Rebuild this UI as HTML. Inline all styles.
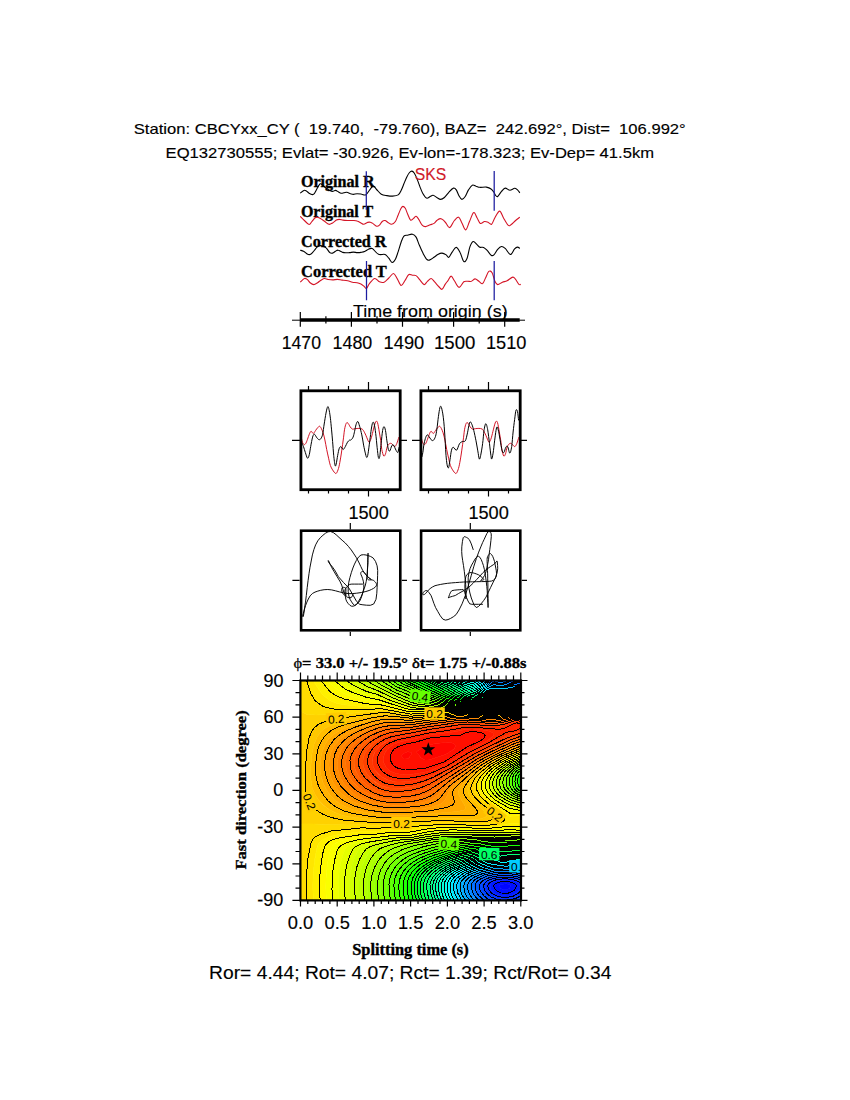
<!DOCTYPE html>
<html><head><meta charset="utf-8"><title>SKS splitting</title><style>
html,body{margin:0;padding:0;background:#fff;}
svg{display:block;}
.s{font-family:"Liberation Sans",Arial,Helvetica,sans-serif;stroke:#000;stroke-width:0.15px;}
.l{font-family:"Liberation Sans",Arial,Helvetica,sans-serif;}
.b{font-family:"Liberation Serif","Times New Roman",Times,serif;font-weight:bold;stroke:#000;stroke-width:0.35px;}
text{white-space:pre;}
</style></head><body>
<svg width="850" height="1100" viewBox="0 0 850 1100" xml:space="preserve">
<rect width="850" height="1100" fill="#fff"/>

<text class="s" x="133.80" y="134.40" font-size="15" textLength="551.95" lengthAdjust="spacingAndGlyphs" fill="#000" >Station: CBCYxx_CY (  19.740,  -79.760), BAZ=  242.692°, Dist=  106.992°</text>
<text class="s" x="165.60" y="157.60" font-size="15" textLength="488.46" lengthAdjust="spacingAndGlyphs" fill="#000" >EQ132730555; Evlat= -30.926, Ev-lon=-178.323; Ev-Dep= 41.5km</text>
<text class="b" x="300.90" y="186.80" font-size="16" textLength="73.83" lengthAdjust="spacingAndGlyphs" fill="#000" >Original R</text>
<text class="b" x="300.90" y="216.80" font-size="16" textLength="72.30" lengthAdjust="spacingAndGlyphs" fill="#000" >Original T</text>
<text class="b" x="301.10" y="246.80" font-size="16" textLength="85.45" lengthAdjust="spacingAndGlyphs" fill="#000" >Corrected R</text>
<text class="b" x="301.10" y="276.80" font-size="16" textLength="85.73" lengthAdjust="spacingAndGlyphs" fill="#000" >Corrected T</text>
<path d="M300.2 193.2C300.8 192.7 302.9 190.8 303.9 190.4C304.9 190.0 305.4 190.4 306.3 190.9C307.2 191.4 308.1 192.6 309.1 193.2C310.1 193.8 311.5 194.5 312.4 194.6C313.3 194.7 313.6 194.5 314.3 193.7C315.0 192.8 315.8 190.9 316.6 189.5C317.4 188.1 318.3 186.1 319.0 185.2C319.7 184.2 319.7 183.3 320.9 183.8C322.1 184.3 324.6 187.0 326.1 188.1C327.6 189.2 328.7 189.8 329.8 190.4C330.9 191.0 331.7 191.4 332.6 191.4C333.6 191.4 334.6 190.3 335.5 190.4C336.4 190.5 337.4 191.3 338.3 191.8C339.2 192.3 340.2 193.0 341.1 193.2C342.0 193.4 342.9 193.0 343.9 192.8C344.8 192.7 345.7 192.2 346.8 192.3C347.9 192.5 349.4 193.3 350.5 193.7C351.6 194.0 352.3 194.4 353.4 194.4C354.5 194.4 355.7 193.7 357.1 193.7C358.5 193.7 360.3 194.0 361.8 194.2C363.3 194.3 364.3 195.9 366.1 194.6C367.9 193.3 371.1 187.0 372.8 186.2C374.6 185.3 375.2 188.2 376.6 189.5C378.0 190.8 379.6 193.2 381.3 194.2C383.0 195.2 385.0 195.3 386.9 195.6C388.8 195.9 390.7 196.2 392.6 196.1C394.5 196.0 396.8 195.8 398.2 194.9C399.6 194.0 400.2 192.2 401.1 190.4C402.1 188.6 403.0 186.0 403.9 183.8C404.8 181.6 405.8 179.1 406.7 177.2C407.6 175.3 408.6 173.5 409.5 172.5C410.4 171.5 411.1 171.0 411.9 171.1C412.7 171.2 413.3 171.7 414.2 173.0C415.1 174.3 416.2 176.8 417.1 179.1C418.1 181.4 419.0 184.2 419.9 186.6C420.8 188.9 421.6 191.3 422.7 193.2C423.8 195.1 425.2 197.5 426.5 198.1C427.8 198.7 429.1 197.0 430.2 196.5C431.3 196.0 432.0 195.1 433.1 195.3C434.2 195.5 435.6 196.8 436.8 197.5C438.1 198.2 439.3 199.4 440.6 199.4C441.9 199.4 443.0 198.7 444.4 197.5C445.8 196.3 447.3 193.9 448.8 192.3C450.3 190.7 452.2 188.5 453.5 188.1C454.8 187.7 455.4 188.6 456.3 189.9C457.2 191.2 458.2 194.5 459.1 196.1C460.0 197.7 460.9 199.3 461.9 199.4C462.9 199.5 464.1 198.1 465.2 196.5C466.3 194.9 467.3 191.8 468.5 189.9C469.7 188.0 471.0 185.8 472.3 185.2C473.6 184.6 474.9 185.8 476.1 186.2C477.4 186.5 478.1 187.2 479.8 187.3C481.5 187.5 484.5 186.8 486.4 187.1C488.3 187.4 489.9 188.1 491.1 189.0C492.4 189.9 493.2 191.3 493.9 192.3C494.6 193.3 494.8 194.4 495.4 195.1C496.0 195.8 496.7 197.1 497.7 196.5C498.7 195.9 500.2 192.8 501.5 191.4C502.8 190.0 503.8 188.3 505.2 188.1C506.6 187.9 508.3 190.2 509.9 190.2C511.5 190.2 513.3 188.4 514.6 188.3C515.9 188.2 516.6 189.2 517.5 189.9C518.4 190.7 519.4 192.3 519.8 192.8" fill="none" stroke="#000" stroke-width="1.1"/>
<path d="M300.2 216.3C300.9 217.0 302.9 219.1 304.4 220.5C305.9 221.9 307.9 224.3 309.1 224.5C310.4 224.7 310.9 222.6 311.9 221.5C312.9 220.4 314.2 218.4 315.2 217.7C316.1 217.0 316.7 217.0 317.6 217.2C318.5 217.3 319.3 218.0 320.4 218.6C321.5 219.2 322.8 220.1 324.2 221.0C325.6 221.9 327.5 224.0 328.9 224.3C330.3 224.6 331.4 223.6 332.6 222.9C333.9 222.2 335.3 220.7 336.4 220.1C337.5 219.5 338.1 219.4 339.2 219.4C340.3 219.4 341.6 219.9 343.0 220.1C344.4 220.3 346.0 220.4 347.7 220.5C349.4 220.6 351.8 220.4 353.4 220.5C355.0 220.6 355.9 220.6 357.1 221.0C358.4 221.4 359.8 222.3 360.9 222.9C362.0 223.5 362.6 224.4 363.7 224.3C364.8 224.2 366.4 222.8 367.5 222.4C368.6 222.1 369.4 222.0 370.3 222.2C371.2 222.4 371.8 222.7 372.8 223.4C373.9 224.1 375.5 225.9 376.6 226.2C377.7 226.5 378.5 226.0 379.4 225.2C380.3 224.4 381.2 222.3 382.2 221.5C383.1 220.7 384.2 220.3 385.1 220.5C386.1 220.7 386.8 221.8 387.9 222.4C389.0 223.0 390.4 224.5 391.6 224.3C392.9 224.2 394.3 223.1 395.4 221.5C396.5 219.9 397.2 217.1 398.2 214.9C399.1 212.7 400.3 209.7 401.1 208.3C401.9 206.9 402.2 206.4 402.9 206.4C403.6 206.4 404.5 207.1 405.3 208.3C406.1 209.6 406.7 211.9 407.6 213.9C408.5 215.9 409.6 219.3 410.5 220.1C411.4 220.9 412.4 219.2 413.3 218.6C414.2 218.0 415.2 216.1 416.1 216.3C417.0 216.5 417.9 218.1 418.9 219.6C419.9 221.1 421.1 224.0 422.2 225.2C423.3 226.4 424.2 226.7 425.5 226.6C426.8 226.5 428.8 225.3 430.2 224.8C431.6 224.3 432.9 224.1 434.0 223.4C435.1 222.7 435.8 221.3 436.8 220.5C437.8 219.7 439.0 218.7 440.1 218.6C441.2 218.5 442.4 219.3 443.4 220.1C444.4 220.9 445.1 222.2 446.2 223.4C447.2 224.7 448.3 228.1 449.7 227.6C451.1 227.1 452.9 222.2 454.4 220.5C455.9 218.8 457.4 216.8 458.6 217.2C459.9 217.6 460.7 220.8 461.9 222.9C463.1 225.0 464.4 230.1 465.7 229.9C467.0 229.7 468.2 224.4 469.5 221.5C470.8 218.6 472.4 213.1 473.7 212.5C474.9 211.9 475.9 215.9 477.0 217.7C478.1 219.5 479.1 222.8 480.3 223.4C481.6 224.0 483.2 221.7 484.5 221.5C485.8 221.3 487.1 221.9 488.3 222.4C489.5 222.9 490.5 225.1 491.6 224.3C492.7 223.5 493.6 219.9 494.9 217.7C496.2 215.5 498.2 211.1 499.6 211.1C501.0 211.1 502.0 215.3 503.4 217.7C504.8 220.0 506.9 224.0 508.1 225.2C509.4 226.4 509.6 225.6 510.9 224.8C512.1 224.0 514.1 221.8 515.6 220.5C517.1 219.2 519.1 217.8 519.8 217.2" fill="none" stroke="#d41426" stroke-width="1.1"/>
<path d="M300.2 250.2C300.8 250.4 302.3 250.6 303.5 251.2C304.7 251.8 306.1 253.4 307.2 254.0C308.3 254.6 309.2 254.8 310.1 254.5C311.1 254.2 312.0 253.0 312.9 252.1C313.8 251.2 314.4 250.2 315.2 249.3C316.0 248.4 316.7 247.1 317.6 246.5C318.5 245.9 319.5 245.6 320.5 245.6C321.5 245.6 322.6 246.1 323.5 246.5C324.4 246.9 325.1 246.9 326.1 247.9C327.2 248.9 328.7 251.7 329.8 252.6C330.9 253.5 331.7 253.3 332.6 253.1C333.6 252.9 334.6 251.7 335.5 251.2C336.4 250.7 337.2 250.0 338.3 250.2C339.4 250.3 340.9 251.7 342.1 252.1C343.4 252.5 344.6 252.7 345.8 252.8C347.1 252.9 348.3 252.7 349.6 252.6C350.9 252.5 352.1 252.1 353.4 252.1C354.6 252.1 355.9 252.5 357.1 252.6C358.4 252.7 359.6 252.6 360.9 252.4C362.1 252.2 363.4 252.1 364.6 251.6C365.9 251.1 367.3 249.8 368.4 249.3C369.5 248.8 370.5 248.5 371.2 248.4C371.9 248.3 371.6 247.8 372.8 248.8C374.0 249.8 376.4 253.4 378.5 254.3C380.6 255.2 383.4 253.8 385.1 254.5C386.8 255.2 387.6 256.9 388.8 258.2C390.0 259.5 391.0 262.3 392.1 262.5C393.2 262.7 394.4 261.0 395.4 259.2C396.4 257.4 397.2 254.4 398.2 251.6C399.1 248.8 400.2 244.8 401.1 242.2C402.1 239.6 402.8 237.3 403.9 236.1C405.0 234.9 406.2 235.5 407.6 235.2C409.0 234.9 411.0 233.9 412.4 234.2C413.8 234.5 415.0 235.4 416.1 237.1C417.2 238.8 417.8 241.5 418.9 244.1C420.0 246.7 421.4 250.1 422.7 252.6C424.0 255.1 425.4 257.9 426.5 259.2C427.6 260.4 428.1 260.4 429.3 260.1C430.6 259.8 432.6 258.2 434.0 257.3C435.4 256.4 436.5 255.2 437.8 254.5C439.1 253.8 440.6 253.0 442.0 253.1C443.4 253.2 445.1 254.2 446.2 254.9C447.3 255.6 447.8 257.9 448.8 257.3C449.9 256.8 451.2 253.2 452.5 251.6C453.8 249.9 455.0 247.2 456.3 247.4C457.6 247.6 458.9 250.2 460.1 252.6C461.4 254.9 462.6 260.6 463.8 261.5C465.0 262.4 466.1 260.6 467.1 258.2C468.1 255.8 468.9 249.7 469.9 246.9C470.9 244.1 472.0 241.9 473.2 241.5C474.4 241.1 475.9 243.7 477.0 244.6C478.1 245.5 478.7 246.7 479.8 247.2C480.9 247.7 482.3 246.8 483.6 247.4C484.9 248.0 486.1 249.4 487.4 250.7C488.6 252.0 490.0 254.5 491.1 255.2C492.2 255.9 492.8 255.9 493.9 254.9C495.0 253.9 496.4 250.7 497.7 249.3C499.0 247.9 500.2 246.7 501.5 246.5C502.8 246.3 503.7 247.1 505.2 248.4C506.7 249.7 508.8 254.4 510.4 254.5C512.0 254.6 513.4 250.0 514.6 248.8C515.8 247.6 516.6 247.2 517.5 247.1C518.4 247.0 519.4 248.2 519.8 248.4" fill="none" stroke="#000" stroke-width="1.1"/>
<path d="M300.2 282.2C300.9 281.6 303.2 279.0 304.4 278.5C305.6 278.0 306.2 278.7 307.2 279.4C308.1 280.1 309.0 281.8 310.1 282.7C311.2 283.6 312.6 284.6 313.8 284.6C315.1 284.6 316.3 283.5 317.6 282.7C318.9 281.9 320.2 280.6 321.4 279.9C322.6 279.2 323.5 278.6 324.6 278.5C325.7 278.4 326.6 279.2 327.9 279.4C329.2 279.6 331.0 279.9 332.6 279.9C334.2 279.9 335.8 279.4 337.4 279.4C339.0 279.4 340.4 279.9 342.1 280.1C343.8 280.3 346.0 280.5 347.7 280.8C349.4 281.1 350.8 281.9 352.4 282.2C354.0 282.5 355.7 282.4 357.1 282.7C358.5 283.0 359.7 283.5 360.9 284.1C362.1 284.7 363.3 285.8 364.2 286.5C365.1 287.2 365.6 288.9 366.5 288.4C367.4 287.9 368.0 285.2 369.4 283.6C370.8 282.0 373.0 278.8 374.7 278.5C376.4 278.2 377.8 281.2 379.4 281.8C381.0 282.4 382.5 282.8 384.1 282.2C385.7 281.6 387.2 279.4 388.8 278.0C390.4 276.6 392.1 273.4 393.5 273.5C394.9 273.6 396.0 276.9 397.3 278.9C398.6 280.9 399.9 285.2 401.1 285.5C402.4 285.8 403.6 282.6 404.8 280.8C406.1 279.0 407.3 275.6 408.6 274.7C409.9 273.8 411.1 275.0 412.4 275.2C413.6 275.4 414.9 274.8 416.1 275.6C417.4 276.4 418.6 278.4 419.9 279.9C421.2 281.4 422.9 284.4 424.1 284.6C425.4 284.8 426.2 282.3 427.4 281.3C428.6 280.3 429.9 278.4 431.2 278.5C432.4 278.6 433.6 280.9 434.9 282.2C436.1 283.5 437.5 285.3 438.7 286.5C439.9 287.7 440.9 289.7 442.0 289.3C443.1 288.9 444.3 285.5 445.3 284.1C446.3 282.7 446.8 282.1 447.8 280.8C448.8 279.5 450.0 276.1 451.1 276.1C452.2 276.1 453.1 278.9 454.4 280.8C455.7 282.7 457.5 287.2 459.1 287.4C460.7 287.6 462.4 282.8 463.8 281.8C465.2 280.8 466.3 281.4 467.6 281.3C468.9 281.2 470.1 281.7 471.4 281.3C472.6 280.9 473.9 278.9 475.1 278.9C476.4 278.9 477.6 280.5 478.9 281.3C480.1 282.1 481.5 284.2 482.6 283.6C483.7 283.1 484.5 280.0 485.5 278.0C486.5 276.0 487.7 272.3 488.8 271.4C489.9 270.5 491.1 271.1 492.1 272.8C493.1 274.5 494.0 279.3 494.9 281.3C495.8 283.3 496.4 284.5 497.7 284.6C498.9 284.8 500.8 282.8 502.4 282.2C504.0 281.6 505.4 281.6 507.1 280.8C508.8 280.0 511.4 277.3 512.8 277.1C514.2 276.9 514.6 278.2 515.6 279.4C516.6 280.6 518.0 283.6 518.9 284.4C519.8 285.2 520.5 284.4 520.8 284.4" fill="none" stroke="#d41426" stroke-width="1.1"/>
<g stroke="#1c1ca0" stroke-width="1.25"><path d="M366.3 171.2V209.8M494.2 171.1V210.8M366.5 261V300.3M494.2 261V300.3"/></g>
<text class="s" x="414.80" y="179.60" font-size="16" textLength="31.42" lengthAdjust="spacingAndGlyphs" fill="#d01a2a" style="stroke:#d01a2a">SKS</text>
<text class="s" x="353.00" y="316.50" font-size="17" textLength="154.60" lengthAdjust="spacingAndGlyphs" fill="#000" >Time from origin (s)</text>
<path d="M292 320.2H525" stroke="#000" stroke-width="1"/>
<path d="M300.3 320H519.7" stroke="#000" stroke-width="3.4"/>
<path d="M300.3 312V326.8M325.9 316.2V323.5M351.4 312V326.8M377.0 316.2V323.5M402.5 312V326.8M428.1 316.2V323.5M453.6 312V326.8M479.2 316.2V323.5M504.7 312V326.8" stroke="#000" stroke-width="1.2"/>
<text class="s" x="281.70" y="348.50" font-size="18" textLength="39.28" lengthAdjust="spacingAndGlyphs" fill="#000" >1470</text>
<text class="s" x="332.50" y="348.50" font-size="18" textLength="39.78" lengthAdjust="spacingAndGlyphs" fill="#000" >1480</text>
<text class="s" x="383.60" y="348.50" font-size="18" textLength="40.68" lengthAdjust="spacingAndGlyphs" fill="#000" >1490</text>
<text class="s" x="434.00" y="348.50" font-size="18" textLength="41.38" lengthAdjust="spacingAndGlyphs" fill="#000" >1500</text>
<text class="s" x="486.00" y="348.50" font-size="18" textLength="40.48" lengthAdjust="spacingAndGlyphs" fill="#000" >1510</text>
<path d="M308.5 386V390.8M308.5 489.7V493.6M328.5 386V390.8M328.5 489.7V493.6M348.5 386V390.8M348.5 489.7V493.6M368.5 382V390.8M368.5 489.7V496.5M388.5 386V390.8M388.5 489.7V493.6M292 440.4H300.9M400.2 440.4H407" stroke="#000" stroke-width="1.2"/>
<text class="s" x="348.40" y="518.50" font-size="18" textLength="40.38" lengthAdjust="spacingAndGlyphs" fill="#000" >1500</text>
<path d="M428.5 386V390.8M428.5 489.7V493.6M448.5 386V390.8M448.5 489.7V493.6M468.5 386V390.8M468.5 489.7V493.6M488.5 382V390.8M488.5 489.7V496.5M508.5 386V390.8M508.5 489.7V493.6M412 440.4H420.9M520.2 440.4H527" stroke="#000" stroke-width="1.2"/>
<text class="s" x="468.40" y="518.50" font-size="18" textLength="40.38" lengthAdjust="spacingAndGlyphs" fill="#000" >1500</text>
<clipPath id="cb1"><rect x="301" y="391" width="99" height="99"/></clipPath><clipPath id="cb2"><rect x="421" y="391" width="99" height="99"/></clipPath>
<g clip-path="url(#cb1)" fill="none" stroke-width="1"><path d="M300.5 432.0C300.8 433.5 301.4 438.7 302.0 440.8C302.6 442.9 303.2 443.9 303.8 444.4C304.4 444.9 305.0 444.5 305.6 443.7C306.2 442.9 306.9 440.9 307.5 439.3C308.1 437.7 308.7 435.5 309.3 434.2C309.9 432.9 310.4 431.4 311.1 431.3C311.8 431.2 312.6 433.6 313.3 433.5C314.0 433.4 314.8 431.6 315.5 430.6C316.2 429.6 317.0 428.4 317.7 427.7C318.4 427.0 318.9 426.1 319.5 426.2C320.1 426.3 320.7 427.3 321.3 428.4C321.9 429.5 322.5 430.9 323.1 432.8C323.7 434.7 324.3 437.2 324.9 440.0C325.5 442.8 326.1 446.5 326.7 449.5C327.3 452.5 328.0 455.5 328.6 458.2C329.2 460.9 329.7 463.6 330.4 465.5C331.1 467.4 331.7 468.6 332.6 469.9C333.5 471.2 334.9 473.5 335.8 473.5C336.7 473.5 337.3 471.7 338.0 469.9C338.7 468.1 339.2 465.8 339.8 462.6C340.4 459.4 341.1 455.0 341.7 450.9C342.3 446.8 343.0 441.7 343.5 437.8C344.0 433.9 344.3 430.2 344.9 427.7C345.4 425.2 346.1 423.1 346.8 422.6C347.5 422.1 348.4 424.0 349.0 424.7C349.6 425.4 349.6 426.2 350.2 426.9C350.8 427.6 351.5 428.8 352.4 429.1C353.2 429.4 354.2 428.8 355.3 428.7C356.4 428.6 357.8 428.3 358.9 428.4C360.0 428.5 361.2 428.4 362.2 429.1C363.2 429.8 363.9 431.4 364.7 432.8C365.5 434.2 366.2 436.2 366.9 437.8C367.6 439.4 368.4 442.2 369.1 442.2C369.8 442.2 370.6 440.0 371.3 437.8C372.0 435.6 372.8 431.8 373.5 429.1C374.2 426.4 375.0 422.9 375.7 421.8C376.4 420.7 376.9 420.9 377.5 422.6C378.1 424.3 378.8 429.0 379.3 432.0C379.9 435.0 380.4 437.9 380.8 440.8C381.2 443.7 381.3 447.0 381.8 449.5C382.3 452.0 383.1 455.3 383.7 456.0C384.3 456.7 384.9 455.5 385.5 453.9C386.1 452.3 386.6 448.3 387.3 446.6C388.0 444.9 388.8 444.2 389.5 443.7C390.2 443.2 390.8 443.2 391.7 443.7C392.6 444.2 393.8 446.6 394.6 446.6C395.5 446.6 396.1 445.1 396.8 443.5C397.5 441.9 398.5 438.2 398.9 437.1" stroke="#d41426"/><path d="M302.0 442.9C302.2 443.5 302.9 445.0 303.5 446.6C304.1 448.2 304.6 450.5 305.3 452.4C306.0 454.3 306.8 457.8 307.5 458.2C308.2 458.6 308.8 456.5 309.3 454.6C309.8 452.7 310.1 449.5 310.7 446.6C311.2 443.7 312.0 439.2 312.6 437.1C313.2 435.0 313.7 434.1 314.4 434.2C315.1 434.3 316.1 436.9 316.9 437.8C317.7 438.7 318.4 439.6 319.1 439.7C319.8 439.8 320.3 439.5 320.9 438.6C321.5 437.7 322.1 436.6 322.7 434.2C323.2 431.8 323.6 427.5 324.2 424.0C324.8 420.5 325.4 416.0 326.0 413.1C326.6 410.2 327.2 407.0 327.8 406.6C328.4 406.2 328.9 409.0 329.3 410.9C329.7 412.8 330.0 415.2 330.4 418.2C330.8 421.2 331.1 425.2 331.5 429.1C331.9 433.0 332.2 437.1 332.6 441.5C333.0 445.9 333.3 451.3 333.7 455.3C334.1 459.3 334.7 464.1 335.1 465.5C335.5 466.9 335.8 465.7 336.2 464.0C336.6 462.3 337.2 457.8 337.7 455.3C338.2 452.8 338.6 450.2 339.1 448.8C339.6 447.4 340.2 446.5 340.9 446.6C341.6 446.7 342.4 449.5 343.1 449.5C343.8 449.5 344.6 447.8 345.3 446.6C346.0 445.4 346.8 443.3 347.5 442.2C348.2 441.1 349.1 440.4 349.7 440.0C350.3 439.6 350.3 440.5 350.9 440.0C351.5 439.5 352.5 438.6 353.1 437.1C353.7 435.7 354.1 433.4 354.6 431.3C355.1 429.2 355.5 426.3 356.0 424.7C356.5 423.1 357.2 421.2 357.8 421.5C358.4 421.8 358.9 424.0 359.6 426.2C360.3 428.4 361.1 431.8 361.8 434.9C362.5 438.0 363.0 441.9 363.6 445.1C364.2 448.3 365.0 451.8 365.5 453.9C366.0 456.0 366.4 457.5 366.8 457.5C367.2 457.5 367.5 456.7 368.0 453.9C368.5 451.1 369.2 444.9 369.8 440.8C370.4 436.7 370.8 432.1 371.3 429.1C371.8 426.1 372.2 423.5 372.7 422.6C373.2 421.8 373.7 422.2 374.2 424.0C374.7 425.8 375.2 429.6 375.7 433.5C376.2 437.4 376.7 443.3 377.1 447.3C377.6 451.3 378.0 455.9 378.4 457.5C378.8 459.1 379.2 459.1 379.7 456.8C380.1 454.5 380.6 448.1 381.1 443.7C381.6 439.3 382.1 433.5 382.6 430.6C383.1 427.8 383.5 426.6 384.0 426.6C384.5 426.6 385.0 428.2 385.5 430.6C386.0 433.0 386.4 437.7 386.9 440.8C387.4 443.9 387.9 447.8 388.4 449.5C388.9 451.2 389.2 451.5 389.8 450.9C390.4 450.3 391.1 446.9 391.7 445.9C392.3 444.9 392.8 444.4 393.5 445.1C394.2 445.8 395.3 449.0 396.0 450.2C396.7 451.4 397.4 452.9 397.9 452.4C398.4 451.9 398.7 448.1 398.9 447.3" stroke="#000"/></g>
<g clip-path="url(#cb2)" fill="none" stroke-width="1"><path d="M420.5 432.0C420.8 433.5 421.4 438.7 422.0 440.8C422.6 442.9 423.2 443.9 423.8 444.4C424.4 444.9 425.0 444.5 425.6 443.7C426.2 442.9 426.9 440.9 427.5 439.3C428.1 437.7 428.7 435.5 429.3 434.2C429.9 432.9 430.4 431.4 431.1 431.3C431.8 431.2 432.6 433.6 433.3 433.5C434.0 433.4 434.8 431.6 435.5 430.6C436.2 429.6 437.0 428.4 437.7 427.7C438.4 427.0 438.9 426.1 439.5 426.2C440.1 426.3 440.7 427.3 441.3 428.4C441.9 429.5 442.5 430.9 443.1 432.8C443.7 434.7 444.3 437.2 444.9 440.0C445.5 442.8 446.1 446.5 446.7 449.5C447.3 452.5 448.0 455.5 448.6 458.2C449.2 460.9 449.7 463.6 450.4 465.5C451.1 467.4 451.7 468.6 452.6 469.9C453.5 471.2 454.9 473.5 455.8 473.5C456.7 473.5 457.3 471.7 458.0 469.9C458.7 468.1 459.2 465.8 459.8 462.6C460.4 459.4 461.1 455.0 461.7 450.9C462.3 446.8 463.0 441.7 463.5 437.8C464.0 433.9 464.3 430.2 464.9 427.7C465.4 425.2 466.1 423.1 466.8 422.6C467.5 422.1 468.4 424.0 469.0 424.7C469.6 425.4 469.6 426.2 470.2 426.9C470.8 427.6 471.5 428.8 472.4 429.1C473.2 429.4 474.2 428.8 475.3 428.7C476.4 428.6 477.8 428.3 478.9 428.4C480.0 428.5 481.2 428.4 482.2 429.1C483.2 429.8 483.9 431.4 484.7 432.8C485.5 434.2 486.2 436.2 486.9 437.8C487.6 439.4 488.4 442.2 489.1 442.2C489.8 442.2 490.6 440.0 491.3 437.8C492.0 435.6 492.8 431.8 493.5 429.1C494.2 426.4 495.0 422.9 495.7 421.8C496.4 420.7 496.9 420.9 497.5 422.6C498.1 424.3 498.8 429.0 499.3 432.0C499.9 435.0 500.4 437.9 500.8 440.8C501.2 443.7 501.3 447.0 501.8 449.5C502.3 452.0 503.1 455.3 503.7 456.0C504.3 456.7 504.9 455.5 505.5 453.9C506.1 452.3 506.6 448.3 507.3 446.6C508.0 444.9 508.8 444.2 509.5 443.7C510.2 443.2 510.8 443.2 511.7 443.7C512.5 444.2 513.8 446.6 514.6 446.6C515.5 446.6 516.1 445.1 516.8 443.5C517.5 441.9 518.5 438.2 518.9 437.1" stroke="#d41426"/><path d="M422.0 456.8C422.2 455.8 422.8 452.8 423.1 450.9C423.4 448.9 423.4 447.2 423.8 445.1C424.2 443.1 424.8 440.3 425.3 438.6C425.9 436.9 426.5 435.3 427.1 434.9C427.7 434.5 428.2 435.6 428.9 436.4C429.6 437.2 430.4 439.0 431.1 439.7C431.8 440.4 432.6 440.9 433.3 440.4C434.0 439.8 434.9 438.3 435.5 436.4C436.1 434.5 436.4 432.4 436.9 429.1C437.4 425.8 437.9 420.2 438.4 416.7C438.9 413.2 439.4 409.7 439.8 408.0C440.2 406.3 440.6 405.8 441.1 406.6C441.6 407.5 442.2 410.6 442.7 413.1C443.1 415.6 443.5 418.7 443.8 421.8C444.1 424.9 444.4 428.4 444.6 432.0C444.9 435.6 445.1 439.8 445.3 443.7C445.5 447.6 445.7 451.8 446.0 455.3C446.3 458.8 446.7 462.7 447.1 464.8C447.5 466.9 448.1 468.6 448.6 467.7C449.1 466.8 449.5 462.6 450.0 459.7C450.5 456.8 450.9 452.3 451.5 450.2C452.1 448.1 452.4 447.3 453.3 447.3C454.2 447.3 455.6 450.8 456.6 450.2C457.6 449.6 458.5 445.1 459.5 443.7C460.5 442.2 461.4 442.0 462.4 441.5C463.4 441.0 464.4 442.2 465.3 440.8C466.2 439.4 466.9 435.4 467.5 432.8C468.1 430.2 468.4 427.3 468.9 425.5C469.3 423.7 469.7 421.9 470.2 421.8C470.7 421.7 471.4 423.2 472.0 424.7C472.6 426.2 473.1 427.9 473.8 430.6C474.5 433.3 475.3 437.4 476.0 440.8C476.7 444.2 477.2 447.9 477.8 450.9C478.4 453.9 478.8 458.3 479.3 459.0C479.8 459.7 480.1 457.9 480.7 455.3C481.2 452.8 482.1 447.8 482.6 443.7C483.2 439.6 483.5 433.9 484.0 430.6C484.5 427.3 485.2 423.8 485.8 423.7C486.4 423.6 487.1 426.5 487.7 429.8C488.3 433.1 489.0 439.4 489.5 443.7C490.0 447.9 490.5 452.8 490.9 455.3C491.3 457.9 491.3 459.4 491.7 459.0C492.1 458.6 492.6 456.1 493.1 453.1C493.6 450.1 494.1 444.6 494.6 440.8C495.1 437.1 495.6 432.9 496.0 430.6C496.4 428.3 496.7 426.8 497.1 426.9C497.5 427.0 498.1 429.2 498.6 431.3C499.1 433.4 499.4 436.0 500.0 439.3C500.6 442.6 501.5 448.7 502.2 450.9C502.9 453.1 503.4 453.0 504.0 452.4C504.6 451.8 505.2 448.3 505.8 447.3C506.4 446.3 507.0 445.6 507.7 446.6C508.4 447.6 509.1 453.1 509.8 453.1C510.5 453.1 511.1 450.1 511.7 446.6C512.2 443.1 512.6 436.5 513.1 432.0C513.6 427.5 514.1 423.3 514.6 419.7C515.1 416.1 515.5 411.5 516.0 410.2C516.5 408.9 517.1 409.9 517.5 411.6C517.9 413.3 518.4 418.9 518.6 420.4" stroke="#000"/></g>
<rect x="300.9" y="390.8" width="99.3" height="98.9" fill="none" stroke="#000" stroke-width="2.8"/>
<rect x="420.9" y="390.8" width="99.3" height="98.9" fill="none" stroke="#000" stroke-width="2.8"/>
<path d="M362.9 584.1 358.6 584.1 354.8 584.1 351.8 584.1 349.7 584.4 348.0 585.8 346.5 587.2 345.4 588.7 344.9 590.3 344.9 592.2 345.1 594.2 345.3 596.1 345.6 597.9 346.0 599.8 346.9 601.8 348.3 603.7 349.9 605.3 351.5 606.2 353.1 606.2 354.8 605.6 356.6 604.4 358.3 602.8 359.7 601.1 360.9 598.5 362.2 594.9 363.2 591.2 363.8 587.9 363.8 584.5 363.3 581.2 362.5 578.3 361.7 576.1 361.0 574.7 360.7 573.4 361.0 572.3 361.6 571.7 362.5 571.5 363.5 571.9 364.5 572.7 365.3 573.8 366.1 574.9 366.9 575.9 367.7 576.7 368.5 577.4 369.1 578.1 369.8 578.7 370.4 579.2 370.9 579.4 371.3 579.5 371.2 579.3 370.8 578.9 370.0 578.4 369.1 577.9 368.1 577.1 367.0 575.9 365.7 574.4 364.2 572.5 362.6 570.2 360.8 566.5 358.7 562.0 356.4 557.7 353.9 553.9 351.3 550.0 348.4 546.4 345.3 543.0 342.1 540.2 339.0 537.4 336.1 534.7 333.3 532.6 330.6 531.5 328.0 531.8 325.5 533.2 322.9 535.3 320.3 537.7 317.8 540.8 315.6 544.9 313.9 549.5 312.4 554.9 311.2 561.0 310.0 567.2 309.0 573.7 308.1 580.4 307.2 587.7 306.3 595.5 305.5 602.1 304.6 607.8 303.9 613.1 303.3 616.4 302.9 616.8 302.7 616.2 302.8 615.1 303.4 613.2 304.3 609.7 305.5 605.7 306.9 602.1 308.3 599.0 310.1 595.9 312.4 593.5 315.0 592.1 317.8 591.1 320.7 590.3 324.1 589.7 327.8 589.5 331.6 589.9 335.5 590.8 339.5 591.9 343.7 592.9 348.0 593.6 352.4 593.6 356.7 593.2 361.4 592.5 365.9 591.5 369.1 590.5 371.4 589.5 373.5 588.4 375.2 587.2 376.3 585.9 376.5 584.6 376.3 583.5 375.8 582.7 375.2 581.9 374.4 581.2 373.7 580.5 372.8 580.1 371.6 579.9 370.5 579.9 369.7 579.9 368.9 579.9 368.2 579.7 367.6 579.2 367.2 578.4 367.1 577.4 367.1 576.3 367.2 575.0 367.3 573.0 367.4 570.5 367.5 567.9 367.6 565.2 367.7 562.1 367.7 559.2 367.8 557.3 367.9 555.8 367.9 554.5 368.0 553.6 368.0 553.1 368.1 553.4 368.1 554.6 368.1 556.4 368.1 558.4 368.0 560.4 368.0 562.3 367.9 564.4 367.7 566.8 367.5 569.2 367.4 571.8 367.2 574.7 366.8 578.0 366.2 581.5 365.4 585.0 364.4 588.1 363.4 591.0 362.3 593.9 361.2 596.6 359.9 599.0 358.6 601.1 357.2 603.3 355.8 604.9 354.5 605.3 353.1 604.1 351.6 601.9 350.1 599.4 348.9 596.0 348.2 591.7 348.2 586.9 348.8 582.2 349.9 577.6 351.3 572.7 352.9 568.0 354.5 564.1 356.3 560.5 358.5 557.1 361.0 555.0 363.6 554.7 366.0 555.0 368.2 555.6 370.7 556.5 373.2 558.0 375.5 561.4 377.1 565.8 377.7 570.5 377.6 575.7 377.4 581.8 377.1 587.8 376.8 593.3 376.0 599.3 373.7 604.0 370.3 605.3 366.5 605.2 362.9 604.8 359.7 604.3 356.5 601.3 353.0 595.1 349.0 588.2 343.5 582.5 338.4 576.7 335.3 571.1 332.5 567.0 330.2 564.4 328.6 562.3 328.1 560.8 328.3 560.5 328.8 561.3 329.6 563.0 330.6 565.1 331.8 567.7 334.2 571.8 337.1 576.7 339.8 581.1 341.7 585.1 342.9 589.2 343.9 592.4 344.8 593.9 345.5 594.8 345.9 595.4 345.9 595.7 345.9 595.3 345.9 593.7 345.9 591.6 345.9 589.6 345.9 588.5 345.7 588.1 345.1 587.7 344.3 587.5 343.5 587.3 342.7 587.4 342.0 588.2 341.7 589.4 341.8 591.0 342.4 592.5 343.2 593.9 344.2 594.9 345.3 595.8 346.5 596.7 347.8 597.4 349.5 597.9 351.3 597.5 353.3 594.6" fill="none" stroke="#000" stroke-width="0.95"/>
<path d="M482.9 604.3 478.6 604.3 474.8 604.3 471.8 604.3 469.7 603.8 468.0 601.0 466.5 597.6 465.4 593.4 464.9 588.3 464.9 584.9 465.1 582.1 465.3 579.8 465.6 577.9 466.0 576.2 466.9 574.6 468.3 573.4 469.9 572.6 471.5 572.6 473.1 572.9 474.8 573.4 476.6 574.0 478.3 574.7 479.7 575.5 481.0 576.5 482.2 577.6 483.2 578.6 483.8 579.3 483.8 579.6 483.3 579.9 482.5 580.1 481.7 580.3 481.0 580.5 480.7 580.5 481.0 580.2 481.6 579.5 482.5 578.4 483.5 577.0 484.5 575.5 485.3 573.7 486.1 571.1 486.9 567.8 487.7 564.1 488.5 559.8 489.1 554.6 489.8 549.5 490.4 545.0 490.9 540.6 491.3 536.5 491.2 533.8 490.8 532.7 490.0 531.9 489.1 531.5 488.1 531.7 487.0 533.3 485.7 536.0 484.2 539.3 482.6 542.6 480.8 546.9 478.7 552.1 476.4 558.4 473.9 566.2 471.3 575.3 468.4 585.3 465.3 595.6 462.1 603.8 459.0 610.0 456.1 614.6 453.3 616.8 450.6 618.4 448.0 619.6 445.5 620.1 442.9 619.2 440.3 615.8 437.8 611.5 435.6 607.6 433.9 603.4 432.4 599.1 431.2 595.8 430.0 594.0 429.0 592.6 428.1 591.5 427.2 590.8 426.3 590.5 425.4 590.7 424.6 591.1 423.9 591.8 423.3 592.5 422.9 593.3 422.7 594.0 422.8 594.5 423.4 594.7 424.3 594.5 425.5 593.6 426.8 592.1 428.2 590.4 430.1 588.6 432.4 587.0 435.0 585.7 437.8 585.0 440.7 584.4 444.1 583.8 447.7 583.3 451.6 582.9 455.5 582.6 459.5 582.3 463.7 582.0 468.0 581.9 472.4 581.8 476.7 581.7 481.4 581.6 485.9 581.5 489.1 581.3 491.4 581.1 493.5 580.3 495.2 578.5 496.3 576.2 496.5 573.5 496.3 570.8 495.8 568.1 495.2 564.8 494.5 561.5 493.7 558.9 492.8 556.6 491.6 554.6 490.5 553.6 489.7 553.7 488.9 554.4 488.2 555.5 487.6 556.7 487.2 558.0 487.1 559.6 487.1 561.5 487.2 563.5 487.3 565.7 487.4 568.0 487.5 570.5 487.6 573.2 487.7 576.0 487.7 578.9 487.8 581.8 487.9 585.0 487.9 588.3 488.0 591.6 488.0 594.9 488.1 598.5 488.1 602.6 488.1 606.1 488.1 607.5 488.0 606.9 488.0 605.3 487.9 603.2 487.7 601.0 487.6 598.1 487.4 594.6 487.2 590.6 486.8 586.4 486.2 581.4 485.4 575.3 484.4 569.5 483.4 565.5 482.3 562.3 481.2 559.5 479.9 557.3 478.6 556.3 477.2 556.6 475.8 557.9 474.5 560.0 473.1 562.5 471.6 565.1 470.1 568.5 468.9 572.9 468.2 577.8 468.2 582.9 468.8 587.7 469.9 593.0 471.3 598.0 472.9 602.1 474.5 605.7 476.3 607.5 478.5 606.5 481.0 603.9 483.6 600.6 486.0 597.1 488.2 592.5 490.7 587.3 493.2 582.2 495.5 577.6 497.1 572.9 497.7 568.7 497.6 565.6 497.4 563.0 497.2 561.2 496.8 561.1 496.0 562.3 493.8 564.4 490.3 566.7 486.5 569.3 482.9 572.7 479.7 576.3 476.5 579.7 473.0 583.3 469.0 587.1 463.5 590.7 458.4 593.6 455.3 595.5 452.5 596.3 450.2 597.0 448.6 597.5 448.1 597.8 448.3 597.9 448.8 596.6 449.6 594.4 450.6 592.2 451.8 590.7 454.2 590.2 457.1 589.9 459.8 589.7 461.7 589.6 462.9 589.5 463.9 590.4 464.8 592.6 465.5 595.2 465.9 597.6 465.9 598.9 465.9 598.6 465.9 597.3 465.9 595.2 465.9 592.5 465.9 589.5 465.7 584.8 465.1 578.1 464.3 571.3 463.5 565.7 462.7 560.7 462.0 556.0 461.7 551.5 461.8 546.8 462.4 541.7 463.2 537.7 464.2 536.7 465.3 536.9 466.5 537.4 467.8 538.2 469.4 539.7 471.3 543.9 473.3 549.9" fill="none" stroke="#000" stroke-width="0.95"/>
<rect x="301.1" y="530.7" width="99.2" height="99.6" fill="none" stroke="#000" stroke-width="2.6"/>
<path d="M350.3 523V529.4M350.3 631.8V636M292.4 580.3H299.6M401.8 580.3H407" stroke="#000" stroke-width="1.2"/>
<rect x="421.1" y="530.7" width="99.2" height="99.6" fill="none" stroke="#000" stroke-width="2.6"/>
<path d="M470.3 523V529.4M470.3 631.8V636M412.4 580.3H419.6M521.8 580.3H527" stroke="#000" stroke-width="1.2"/>
<text class="b" x="293.40" y="667.60" font-size="15" textLength="233.14" lengthAdjust="spacingAndGlyphs" fill="#000" ><tspan font-weight="normal" style="stroke-width:0.25px">ϕ</tspan>= 33.0 +/- 19.5° <tspan font-weight="normal" style="stroke-width:0.5px">δ</tspan>t= 1.75 +/-0.88s</text>
<clipPath id="cp"><rect x="300.5" y="680.5" width="220.3" height="219.9"/></clipPath>
<g clip-path="url(#cp)">
<path fill="#ff0500" stroke="#ff0500" stroke-width="0.6" d="M425.3 759.9l3 0l4.4-1.1l13.2-4.6l8.1-5.3l1.5-2.4l-.1-1.3l-2.2-1.9l-4.4-1.1l-13.2 1.2l-4.4 1.1l-10.7 4.4l-3.7 2.5l0 1.2l4 4.9l1.6 1.3l2.8 1.1zM404.8 759.1l2.9-.4l1.5-1.1l2.5-3.8l.1-1.2l-4.1-.8l-4.4 1.6l-1.4 1.6l-.1 1.2l1.5 2.5z"/>
<path fill="#ff0f00" stroke="#ff0f00" stroke-width="0.6" d="M404.8 769.7l5.8 .1l16.2-1.9l17.6-6.1l22.1-14.4l14.6-7l3-2.5l1-2.4l-.8-1.2l-1.7-1.1l-2.9-.9l-5.9-.7l-4.3 .2l-4.5 1.2l-5.9 2.9l-8.8 .1l-22 2.2l-10.3 3.3l-11.8 2.5l-7.8 2.5l-4.2 2.4l-2.7 3.7l-1 3.6l.3 4.9l1.9 3.7l2.9 2.4l3.3 1.4l5.4 1.1zM425.2 759.9l-2.8-1.1l-1.6-1.3l-4-4.9l0-1.2l3.7-2.5l10.7-4.4l4.4-1.1l13.2-1.2l4.4 1.1l2.2 1.9l.1 1.3l-1.5 2.4l-8.1 5.3l-13.2 4.6l-4.4 1.1l-3 0zM403.3 758.7l-1.5-2.5l.1-1.2l1.4-1.6l4.4-1.6l4.1 .8l-.1 1.2l-2.5 3.8l-1.5 1.1l-2.9 .4z"/>
<path fill="#ff1a00" stroke="#ff1a00" stroke-width="0.6" d="M403.3 774.6l7.3-.2l14.7-2.4l4.4-1.3l14.7-5.9l23.5-14.5l19.8-9.9l5.8-4.9l.5-1.2l-.6-1.3l-4.9-1.9l-8.8-1.6l-7.4-.6l-5.8 .4l-11.8 2.5l-26.4 3.5l-11.8 3.2l-14.8 3.1l-7.4 2.4l-5.4 3.7l-3.8 4.9l-1.7 4.9l.3 4.9l2.4 4.8l4 3.7l5.9 2.6l7 1.1zM404.3 769.7l-5.4-1.1l-3.3-1.4l-2.9-2.4l-1.9-3.7l-.3-4.9l1-3.6l2.7-3.7l4.2-2.4l7.8-2.5l11.8-2.5l10.3-3.3l22-2.2l8.8-.1l5.9-2.9l4.5-1.2l4.3-.2l5.9 .7l2.9 .9l1.7 1.1l.8 1.2l-1 2.4l-3 2.5l-14.6 7l-22.1 14.4l-17.6 6.1l-16.2 1.9l-5.8-.1z"/>
<path fill="#ff2400" stroke="#ff2400" stroke-width="0.6" d="M398.9 778.3l7.3 .1l8.9-1l10.2-2.4l8.1-2.9l14-6.3l20.5-12.7l22.9-11.5l13.8-8.5l1.5-.7l8.8-1.6l3.7-1.4l2.2-1.7l0-2.7l-1.7-1.7l-2.7-.5l-4.7 1.7l-7.1 3.9l-5.8 .9l-25-2.1l-8.8 .1l-17.6 3.2l-19.1 2.6l-28.1 6l-7.9 2.5l-6.6 3.9l-5.4 5.9l-2.3 4.8l-.4 6.2l2.5 6.1l4.6 4.8l5.4 3l8.1 1.9zM403 774.6l-7-1.1l-5.9-2.6l-4-3.7l-2.4-4.8l-.3-4.9l1.7-4.9l3.8-4.9l5.4-3.7l7.4-2.4l14.8-3.1l11.8-3.2l26.4-3.5l11.8-2.5l5.8-.4l7.4 .6l8.8 1.6l4.9 1.9l.6 1.3l-.5 1.2l-5.8 4.9l-19.8 9.9l-23.5 14.5l-14.7 5.9l-4.4 1.3l-14.7 2.4l-7.3 .2z"/>
<path fill="#ff2e00" stroke="#ff2e00" stroke-width="0.6" d="M398.9 782l7.3-.2l8.9-1.2l10.2-2.7l7.4-2.9l14.7-7.1l26.4-15.8l32.3-16.1l14.7-5.2l0-3.1l-2.2 1.7l-3 1.2l-9.5 1.8l-1.5 .7l-13.8 8.5l-22.9 11.5l-23.5 14.1l-17.6 7.4l-16.2 3.5l-10.2 .3l-8.8-1.5l-3-1.2l-4.4-2.7l-2.9-2.9l-2-2.9l-1.4-3.6l-.5-3.7l1.5-6.1l2.3-3.7l3-3.3l7.4-4.9l8.6-2.8l28.1-6l19.1-2.6l16.1-3l8.8-.4l19.1 1.9l8.8 .3l4.4-.9l10.3-5.3l3-.3l1.4 .6l1.5 1.6l0-2.3l-2.9-1.2l-3 .3l-11.7 4.3l-5.9 1l-5.9 0l-19.1-1.5l-8.8 .1l-35.2 5.6l-30.9 6.1l-8.9 3l-7.7 4.8l-5.4 6l-2.7 6.3l-.2 6.1l1.1 3.6l1.8 3.2l5.9 6.1l7.3 3.8l8.8 1.6z"/>
<path fill="#ff3800" stroke="#ff3800" stroke-width="0.6" d="M390.1 784.6l8.8 .7l10.3-.7l8.8-1.7l10.3-3.5l19.1-9.4l20.5-12.6l10.3-5.6l27.9-13.5l14.7-5.4l0-2.1l-14.7 5.2l-32.3 16.1l-26.4 15.8l-14.7 7.1l-7.4 2.9l-7.3 2l-13.2 2l-10.3-.3l-4.6-.9l-4.2-1.6l-4.4-2.6l-3-2.5l-2.6-3.1l-2.1-3.7l-1.1-3.6l-.2-3.7l.7-3.7l1.6-3.6l5.2-6.5l4.3-3.3l4.4-2.4l4.5-1.8l7.4-1.8l29.3-5.8l30.9-4.9l10.3-.6l20.5 1.6l5.9 0l5.9-1l11.7-4.3l3-.3l2.9 1.2l0-1.2l-2.9-.9l-3 .2l-11.7 3.7l-7.4 1.1l-7.3 0l-20.6-1.4l-7.3 .4l-30.6 4.8l-14.9 3l-17.7 2.8l-6.1 1.5l-6.3 2.4l-7.7 4.9l-5.8 6.1l-3.2 6.1l-.8 6.2l.6 3.6l1.4 3.6l4.5 6.2l7.3 5.6l7.6 2.9z"/>
<path fill="#ff4200" stroke="#ff4200" stroke-width="0.6" d="M390.1 788l8.8 .5l10.3-.9l8.8-1.8l8.8-3.1l20.6-10.7l29.3-17.7l30.9-14.8l13.2-4.8l0-1.8l-14.7 5.4l-29.4 14.3l-28.8 17.1l-16.7 8.5l-13.2 4.7l-7.4 1.5l-7.3 .8l-11.7-.4l-4.4-.9l-4.5-1.7l-4.5-2.7l-4.2-3.7l-3-3.7l-2-3.6l-1.1-3.7l-.4-3.7l.8-4.9l1.6-3.6l2.5-3.7l3.5-3.7l8.3-5.6l7.1-2.9l6.1-1.5l17.7-2.8l14.9-3l30.6-4.8l7.3-.4l20.6 1.4l8.8-.1l7.3-1.4l10.3-3.3l3-.2l2.9 .9l0-.9l-2.9-.7l-3 .1l-13.2 3.6l-7.3 .9l-26.5-1.5l-7.3 .3l-66.1 10.5l-7.3 1.9l-5.2 2.2l-4.4 2.5l-5 3.6l-5.6 6.1l-2.2 3.7l-1.4 3.7l-.5 3.6l.2 3.7l1.5 4.9l2 3.6l5.9 6.5l8.8 5.9l8.5 2.3z"/>
<path fill="#ff4d00" stroke="#ff4d00" stroke-width="0.6" d="M385.7 790.6l10.3 .9l10.2-.6l10.3-1.9l8.8-2.9l10.3-5.3l41.1-24.8l32.4-15.5l11.7-4.3l0-1.5l-13.2 4.8l-29.4 14.1l-10.3 5.7l-20.5 12.7l-19.1 10.1l-13.2 4.4l-7.4 1.3l-7.3 .6l-11.8-.6l-4.4-1l-4.4-1.9l-4.8-3l-4.3-3.7l-4.1-4.9l-2-3.6l-1.2-3.7l-.5-4.9l.5-3.6l1.4-3.7l3.1-4.9l3.1-3.4l8.8-6.4l7.4-3.4l7.3-1.9l17.6-2.5l17.6-3.4l29.4-4.4l8.8-.5l19.1 1.4l8.8 0l5.9-.8l13.2-3.6l3-.1l2.9 .7l0-.8l-2.9-.6l-3 .1l-13.2 3.3l-7.3 .9l-8.8-.2l-17.7-1.3l-8.8 .3l-29.4 4.3l-17.6 3.2l-19.1 2.3l-7.3 1.9l-7.4 3.1l-8.8 5.7l-7 7.3l-2.1 3.7l-1.4 3.7l-.6 3.6l.2 3.7l2.4 7.3l2.3 3.7l3.3 3.8l9.5 7.2l5.2 2.6l3.7 1z"/>
<path fill="#ff5700" stroke="#ff5700" stroke-width="0.6" d="M390.1 794.2l8.8 .2l10.3-1l8.8-1.8l7.3-2.6l7.4-3.8l44.3-27.7l33.5-16.1l10.3-3.7l0-1.5l-10.3 3.6l-32.3 15.4l-41.1 24.8l-10.3 5.4l-7.3 2.8l-7.4 1.8l-8.8 1.2l-7.3 .3l-11.8-1.2l-3.3-1.1l-5.5-2.8l-5.9-4.2l-4.2-4l-3.1-4l-2.3-4.5l-1.1-3.7l-.4-4.9l.6-3.6l2-4.9l3.4-4.9l3.7-3.7l8.6-6.1l8.1-3.6l8.2-2.2l19.1-2.3l17.6-3.2l29.4-4.3l8.8-.3l17.7 1.3l8.8 .2l7.3-.9l13.2-3.3l3-.1l2.9 .6l0-.7l-5.9-.4l-13.2 3l-8.8 .9l-26.4-1.6l-7.4 .3l-27.9 3.8l-19.1 3.3l-21 2.2l-9.1 2.4l-9.5 4.6l-9 6.4l-3.5 3.7l-3.4 4.9l-1.5 3.6l-.9 3.7l-.1 3.7l.8 4.9l2 4.8l2.2 3.7l3.1 3.7l4.4 3.9l7 4.6l4.7 2.4l4.4 1.5l6.3 1z"/>
<path fill="#ff6100" stroke="#ff6100" stroke-width="0.6" d="M385.7 796.6l10.3 .6l10.2-.6l10.3-1.7l8.8-2.9l7.4-4l14.2-9.8l30.7-19.5l21.2-10.6l16.1-7.3l5.9-1.8l0-1.3l-10.3 3.7l-32.3 15.4l-45.5 28.4l-7.4 3.8l-7.3 2.6l-7.4 1.6l-14.6 1.2l-7.4-.3l-5.9-1l-9.1-3.9l-7-4.6l-4.4-3.9l-3.9-4.9l-2.6-4.9l-1.1-3.7l-.5-4.8l.6-4.9l1.6-4.3l2.7-4.3l3.3-3.7l5.8-4.8l4.4-2.8l9.5-4.6l9.1-2.4l21-2.2l19.1-3.3l27.9-3.8l7.4-.3l17.6 1.4l10.3 .1l7.3-.8l13.2-3l5.9 .4l0-.6l-5.9-.4l-14.7 3l-7.3 .6l-26.4-1.6l-7.4 .2l-27.9 3.6l-19.1 3.2l-22 1.8l-10.8 2.9l-10.2 4.9l-5.7 3.7l-4.3 3.6l-3.5 3.7l-2.5 3.7l-1.8 3.6l-1.3 4.9l-.1 4.9l.9 4.9l2 4.9l2.3 3.6l2.9 3.7l4.2 3.8l4.4 3.1l7.3 4.2l5.9 2.3l5.9 1.3z"/>
<path fill="#ff6b00" stroke="#ff6b00" stroke-width="0.6" d="M384.2 799.1l10.3 .9l10.3-.4l11.7-1.8l8.8-2.7l7.4-3.9l15.6-11.7l29.8-19.6l20.7-10.5l16.1-7.3l5.9-1.8l0-1.3l-8.8 3.1l-20.6 9.4l-13.2 6.8l-31.3 19.9l-14.2 9.8l-5.9 3.3l-7.3 2.8l-7.4 1.7l-8.8 1.1l-8.8 .3l-7.3-.4l-5.9-1.1l-5.9-2.1l-6.1-3.2l-5.7-3.6l-5.6-4.9l-3.8-4.9l-2.5-4.9l-1.4-4.9l-.5-4.8l.7-4.9l1.9-4.9l3.2-4.9l3.5-3.7l4.3-3.6l5.7-3.7l10.2-4.9l10.8-2.9l22-1.8l19.1-3.2l26.4-3.4l8.9-.4l26.4 1.6l7.3-.6l14.7-3l5.9 .4l0-.6l-5.9-.4l-14.7 2.8l-8.8 .7l-24.9-1.7l-5.9 0l-29.4 3.5l-20.6 3.2l-19 1l-7 1.1l-6.3 1.9l-7.3 3l-6.8 3.7l-9.7 7.3l-4.1 4.8l-2.3 3.8l-1.4 3.6l-1 4.9l.1 4.9l1 4.9l2 4.9l3.1 4.9l7.3 7.4l5.9 3.9l6.6 3.3l6.5 2.5l5.3 1.2z"/>
<path fill="#ff7500" stroke="#ff7500" stroke-width="0.6" d="M382.7 801.6l13.3 1.1l11.7-.7l11.8-1.9l8.8-2.9l7.3-4.6l14.1-11.9l26.8-18.3l19.3-10.4l19.1-8.6l5.9-1.9l0-1.2l-5.9 1.8l-16.1 7.3l-20.6 10.4l-29.9 19.7l-15.6 11.7l-5.9 3.3l-7.3 2.6l-7.4 1.5l-8.8 1.1l-8.8 .3l-7.3-.5l-7.4-1.3l-5.9-1.9l-7.3-3.5l-7.4-4.7l-4.2-3.8l-4-4.8l-2.8-4.9l-1.7-4.9l-.8-6.1l.4-4.9l1.5-4.9l2.7-4.9l4.2-4.9l9.7-7.3l6.8-3.7l7.3-3l6.3-1.9l7-1.1l19-1l20.6-3.2l29.4-3.5l32.3 1.7l7.3-.7l14.7-2.8l5.9 .4l0-.5l-5.9-.4l-16.1 2.8l-7.4 .5l-30.8-1.8l-29.4 3.3l-20.6 3l-20.5 .7l-5.9 .9l-7.3 2l-8.5 3.4l-7.7 4l-5.9 3.9l-4.9 4.3l-3.1 3.7l-2.9 4.9l-1.7 4.9l-.7 4.9l.2 4.8l1.1 4.9l2 4.9l3 4.9l4.1 4.8l4.3 3.7l5.7 3.7l6.2 3.1l5.8 2.3l7.6 1.9z"/>
<path fill="#ff8000" stroke="#ff8000" stroke-width="0.6" d="M391.6 805.2l11.7-.1l11.8-1.2l8.8-1.7l7.3-2.7l6.2-4.2l12.2-12.2l27.4-19.5l18.8-10.4l19.1-8.5l5.9-2l0-1.2l-5.9 1.9l-19.1 8.6l-17.3 9.1l-28.8 19.6l-14.1 11.9l-7.3 4.6l-5.9 2.2l-8.8 1.9l-10.3 1.1l-8.8 .2l-7.3-.4l-7.4-1.1l-7.2-2.1l-7.5-3.2l-5.9-3.2l-5.9-4.6l-4.6-4.9l-3.3-4.9l-2.2-4.9l-1.5-6.1l-.1-6.1l.9-4.9l2-4.8l3.2-4.9l4.8-4.9l4.8-3.7l6.1-3.6l7.7-3.7l7.2-2.7l8.9-2l23.4-1.1l20.6-3l29.4-3.3l32.3 1.7l8.8-.8l13.2-2.4l5.9 .4l0-.5l-5.9-.4l-14.7 2.5l-8.8 .6l-30.8-1.9l-29.4 3l-20.6 2.9l-23.4 .5l-8.1 1.6l-8.1 2.7l-8.8 3.8l-8.8 5l-5.8 4.4l-4.4 4.9l-3 4.9l-1.8 4.8l-1 6.2l.3 6.1l1.5 6.1l2.2 4.9l3.2 4.9l4.3 4.8l4.3 3.7l6 3.8l7.4 3.3l7.3 2.5l7.4 1.6l9.4 1z"/>
<path fill="#ff8a00" stroke="#ff8a00" stroke-width="0.6" d="M388.6 807.6l14.7 .1l14.7-1.3l8.8-1.7l7.3-2.5l6.3-4.4l7.2-9.8l3.8-3.7l24.2-18.3l15.8-9.4l14.7-6.9l14.7-5.8l0-1.2l-5.9 2l-19.1 8.5l-17.6 9.6l-28.6 20.3l-12.2 12.2l-6.2 4.2l-5.9 2.3l-8.8 1.9l-13.2 1.4l-10.3 .1l-8.8-.6l-7.3-1.3l-7.4-2.2l-8-3.3l-6.5-3.7l-4.6-3.4l-4.9-5.1l-3.4-4.9l-2.9-6.1l-1.5-6.1l-.3-6.1l1-6.2l1.8-4.8l3-4.9l4.4-4.9l5.8-4.4l8.8-5l8.8-3.8l8.1-2.7l8.1-1.6l23.4-.5l20.6-2.9l29.4-3l32.3 1.8l7.3-.5l14.7-2.5l5.9 .4l0-.5l-5.9-.4l-16.1 2.5l-7.4 .4l-30.8-1.9l-29.4 2.8l-20.6 2.7l-17.6-.3l-7.3 .4l-8.8 1.8l-8.8 2.9l-10.8 4.5l-8.6 4.9l-5.6 4.5l-3.7 4l-3 4.9l-2.2 6.1l-1 6.2l.4 7.3l1.5 6.1l2.8 6.1l3.3 4.9l4.4 4.9l4.8 3.9l5.9 3.5l8.2 3.6l7.9 2.4l7.4 1.5l8.5 1z"/>
<path fill="#ff9400" stroke="#ff9400" stroke-width="0.6" d="M387.2 810l14.6 .3l19.1-1.4l11.8-2.1l7.3-2.6l2.5-1.5l2.5-2.5l4.3-9.8l2.5-3.3l22.7-18.6l8.1-5.6l8.8-5.1l11.8-5.7l17.6-7.1l0-1.1l-5.9 2l-19.1 8.5l-10.2 5.4l-8.2 5l-26 19.5l-3.8 3.7l-7.2 9.8l-6.3 4.4l-7.3 2.5l-8.8 1.7l-14.7 1.3l-11.7 0l-10.3-.8l-7.4-1.4l-7.3-2.1l-7.4-2.8l-7.3-4l-4.4-3.3l-5.3-5.3l-3.6-4.9l-3-6.1l-1.8-6.1l-.6-7.3l.7-6.1l2-6.1l3.5-6.2l3.7-4l5.6-4.5l8.6-4.9l10.8-4.5l8.8-2.9l8.8-1.8l7.3-.4l17.6 .3l20.6-2.7l29.4-2.8l30.8 1.9l7.4-.4l16.1-2.5l5.9 .4l0-.5l-5.9-.3l-16.1 2.3l-7.4 .4l-30.8-2l-29.4 2.5l-20.6 2.6l-19-.7l-7.4 .3l-8.8 1.8l-13.2 4.3l-11.8 5.1l-7.4 4.5l-4.3 3.7l-4.8 6.1l-2.9 6.1l-1.6 6.1l-.5 6.1l.7 7.3l1.7 6.1l3 6.2l3.2 4.8l4.6 4.9l4.6 3.7l6.1 3.6l6.4 2.9l10.3 3.1l8.8 1.7l8.5 .9z"/>
<path fill="#ff9e00" stroke="#ff9e00" stroke-width="0.6" d="M385.7 812.5l16.1 .3l23.5-1.4l14.7-2.3l10.3-2.8l2.2-1.2l1.8-2.4l0-2.5l-1.8-6.1l.7-3.9l4.2-4.6l13.3-12.3l9.3-7.3l9.7-6.1l13.5-6.7l17.6-7.1l0-1.1l-25 10.5l-10.4 5.6l-9.3 6.1l-24.3 19.9l-2.5 3.3l-4.3 9.8l-2.5 2.5l-2.5 1.5l-7.3 2.6l-10.3 1.9l-19.1 1.6l-13.2-.1l-8.8-.7l-8.8-1.4l-8.8-2.4l-8.3-3l-6.4-3.4l-5.5-4l-4.9-4.9l-3.6-4.8l-3.2-6.1l-2.2-7.4l-.7-7.3l.5-6.1l1.6-6.1l2.9-6.1l4.8-6.1l4.3-3.7l7.4-4.5l11.8-5.1l13.2-4.3l8.8-1.8l7.4-.3l19 .7l20.6-2.6l29.4-2.5l23.5 1.8l10.3 .1l20.5-2.6l5.9 .3l0-.4l-5.9-.4l-16.1 2.2l-7.4 .4l-32.3-2l-11.7 1.3l-16.2 .9l-20.6 2.4l-19-1.2l-7.4 .2l-11.7 2.3l-14.7 4.6l-10.3 4.1l-7.3 4.1l-5.8 4.7l-3.9 4.9l-3.2 6.1l-2.1 7.4l-.6 8.5l.7 7.3l2.1 7.4l3 6.1l3.3 4.9l4.5 4.9l6.4 4.8l5.8 3.2l8 3l8.2 2.2l8.8 1.7l10 .9z"/>
<path fill="#ffa800" stroke="#ffa800" stroke-width="0.6" d="M384.2 814.9l16.2 .5l24.9-1.2l32.3-2.6l6.6-1.6l1-1.2l-.1-2.5l-6.2-11l-.7-3.6l1.5-3.7l4.8-6.1l11.3-11l11.2-8.1l14.7-7.9l19.1-7.7l0-1.1l-17.6 7.1l-11.3 5.5l-11.9 7.3l-9.3 7.3l-13.3 12.3l-4.2 4.6l-.7 3.9l1.8 6.1l0 2.5l-1.8 2.4l-2.2 1.2l-10.3 2.8l-14.7 2.3l-23.5 1.4l-14.6-.3l-8.9-.7l-8.8-1.4l-10.3-2.6l-7.6-2.7l-7-3.7l-5-3.6l-4.9-4.9l-3.6-4.9l-3.2-6.1l-2.4-7.3l-.9-7.4l.4-8.5l1.9-7.3l2.9-6.2l3.4-4.8l5.5-5l8.2-4.8l9.4-3.9l16.2-5.1l11.7-2.3l7.4-.2l19 1.2l20.6-2.4l16.2-.9l11.7-1.3l32.3 2l7.4-.4l16.1-2.2l5.9 .4l0-.4l-5.9-.4l-16.1 2.1l-7.4 .3l-32.3-2l-11.7 1.2l-16.2 .7l-20.6 2.2l-19-1.6l-8.9 .2l-11.7 2.2l-16.2 4.5l-13 4.9l-7.5 4.3l-5.7 5.4l-3.3 4.9l-3.1 7.4l-1.6 7.3l-.5 8.5l.9 8.6l2.2 7.3l3.8 7.3l3.4 4.9l4.8 4.9l5 3.7l7.1 3.7l7.5 2.6l11.8 2.6l8.8 1.4l8.3 .7z"/>
<path fill="#ffb200" stroke="#ffb200" stroke-width="0.6" d="M381.3 817.4l19.1 .5l44-2.2l25 .3l6.2-1.1l1.6-1.2l.4-1.3l-.7-2.4l-1.7-2.4l-8.3-8.6l-2.4-3.7l-.9-2.4l-.2-2.5l.5-2.4l2.7-4.9l8.6-9.8l11.8-9.2l14.7-8.2l19.1-7.6l0-1.1l-19.1 7.7l-13.2 7l-12.7 9l-10.2 9.8l-5.9 7.3l-1.5 3.7l.7 3.6l6.2 11l.1 2.5l-1.7 1.5l-5.9 1.3l-35.2 2.8l-23.5 1l-19.1-.7l-8.8-1.1l-11.8-2.3l-7.3-2l-7.3-3l-6.2-3.6l-4.6-3.7l-3.9-4.3l-3.7-5.5l-3.5-7.3l-1.7-6.1l-.9-8.6l.5-8.5l1.6-7.3l3.1-7.4l3.3-4.9l5.7-5.4l7.5-4.3l13-4.9l16.2-4.5l11.7-2.2l8.9-.2l19 1.6l20.6-2.2l16.2-.7l11.7-1.2l32.3 2l7.4-.3l16.1-2.1l5.9 .4l0-.5l-5.9-.3l-16.1 1.9l-7.4 .4l-32.3-2.1l-11.7 1.1l-16.2 .6l-20.6 2l-19-2.1l-8.9-.1l-11.7 1.9l-23.5 5.9l-12 4.3l-7.1 4.5l-4.4 4.4l-4.2 7l-2.4 7.4l-1.6 9.7l-.2 9.8l.9 8.6l1.8 6.1l4.5 8.5l3.6 4.9l4.9 4.8l5.9 3.9l5.9 2.8l5.9 2l7.3 1.6l16.2 2.6l7.9 .6z"/>
<path fill="#ffbd00" stroke="#ffbd00" stroke-width="0.6" d="M375.4 819.8l25 .6l10.2-.8l35.3-1.3l29.4 1.1l5.8-.6l4.2-1.5l1.3-1.2l.3-1.2l-1.3-2.5l-13.7-13.4l-3.4-4.9l-1-4.9l1.4-4.9l3-4.8l4.2-4.9l5.3-4.9l6.5-4.9l13.8-7.8l19.1-7.7l0-1l-19.1 7.6l-13.9 7.7l-6.9 4.9l-5.7 4.8l-8.6 9.8l-2.7 4.9l-.5 2.4l.2 2.5l.9 2.4l2.4 3.7l8.3 8.6l1.7 2.4l.7 2.4l-.4 1.3l-1.6 1.2l-6.2 1.1l-25-.3l-44 2.2l-25-.9l-23.5-3.7l-11.7-4.1l-5.3-2.9l-5-3.7l-4.5-4.8l-4-6.1l-3.5-7.4l-1.8-7.3l-.6-9.8l.7-9.7l1.5-7.4l2.7-7.3l3.9-6.1l5.1-4.9l6.3-3.8l11.8-4.2l23.5-5.9l11.7-1.9l8.9 .1l19 2.1l20.6-2l16.2-.6l11.7-1.1l32.3 2.1l7.4-.4l16.1-1.9l5.9 .3l0-.3l-5.9-.4l-23.5 2.2l-32.3-2.1l-11.7 1l-16.2 .3l-20.6 1.9l-20.5-2.7l-10.3 0l-23.5 4.1l-16.1 3.6l-7.4 2.2l-7.5 3.7l-4.4 3.7l-3.6 4.9l-3.2 7.3l-2 8.6l-1.3 13.4l.1 13.5l1.3 8.5l2.6 6.1l4 6.1l4.6 4.9l6.5 4.8l5.8 2.9l5.9 2.1l7.4 1.8l25.8 3.1z"/>
<path fill="#ffc700" stroke="#ffc700" stroke-width="0.6" d="M371 822.3l19.1 0l10.3 .6l10.2-1l35.3-1.4l32.3 1.5l8.8-.9l5-1.3l2.1-1.3l1-1.2l-.1-2.4l-2.3-2.5l-11.6-8.7l-7.2-7.1l-2.2-3.7l-.7-2.5l-.1-2.4l.8-3.7l1.8-3.6l3.6-4.9l4.9-4.9l6.1-4.9l12.1-7.3l20.6-8.4l0-1l-19.1 7.7l-13.8 7.8l-6.5 4.9l-5.3 4.9l-4.2 4.9l-3 4.8l-1.4 4.9l1 4.9l3.4 4.9l13.7 13.4l1.3 2.5l-.3 1.2l-1.3 1.2l-4.2 1.5l-5.8 .6l-29.4-1.1l-35.3 1.3l-10.2 .8l-27.9-.8l-23.5-2.9l-7.4-1.8l-6.7-2.5l-6.5-3.4l-5.9-4.6l-3.7-4.2l-4-6.1l-2.6-6.1l-1.3-8.5l-.1-13.5l1.3-13.4l2-8.6l3.2-7.3l3.6-4.9l4.4-3.7l7.5-3.7l7.4-2.2l16.1-3.6l23.5-4.1l10.3 0l20.5 2.7l20.6-1.9l16.2-.3l11.7-1l32.3 2.1l23.5-2.2l5.9 .4l0-.4l-5.9-.4l-23.5 2.1l-32.3-2.2l-11.7 .9l-16.2 .2l-20.6 1.7l-7.3-.8l-13.2-2.4l-10.3-.3l-45.5 6.4l-8.8 2.2l-7.4 3.2l-4.4 3.9l-2.8 4.6l-2.1 6.1l-2 11l-1.1 15.9l-.1 23.2l1.8 7.4l2.7 6.1l2.5 3.6l4.1 3.9l5.8 3.8l7.4 3.1l7.3 1.9l8.8 1.5l24.1 1.7z"/>
<path fill="#ffd100" stroke="#ffd100" stroke-width="0.6" d="M300.5 899.2l0-36.7l1.5-1.2l0-9.8l1.4-1.2l-1.4 0l-1.5-1.2l0-24.4l1.5-.8l11.7 .1l33.8 1l16.2-.5l11.7 1l14.7-.8l10.3 .7l10.2-1.3l10.3-.1l20.6-1.5l10.3 .1l27.9 1.4l8.4-.6l6.6-1.2l4.5-2.4l1-2.5l-.7-2.4l-3.4-3.7l-12.4-8.5l-6.3-6.1l-2.4-3.7l-.9-2.5l-.3-3.6l.9-3.7l1.8-3.6l3.8-4.9l5-4.9l6.5-4.9l12.8-7.2l16.2-6.3l0-1l-14.7 5.7l-14.4 7.6l-6.8 4.9l-5.5 4.8l-4.3 4.9l-2.9 4.9l-1.2 3.7l-.1 2.4l1.4 4.9l2.6 3.7l4.8 4.6l14.7 11.6l.9 2.1l-.2 1.2l-1 1.2l-2.1 1.3l-5 1.3l-7.3 .8l-35.3-1.4l-33.8 1.4l-10.2 1l-10.3-.6l-14.7 .3l-29.4-2.1l-8.8-1.5l-7.3-1.9l-5.6-2.2l-4.4-2.5l-4.7-3.3l-3-3.2l-2.9-4.8l-2.3-5.8l-1.2-4.9l-.3-7.3l.3-18.3l1.2-15.9l1.8-9.8l2-5.8l2.1-3.9l3.8-3.8l2.9-1.9l4.4-1.8l8.8-2.5l47-6.7l10.3 .3l13.2 2.4l7.3 .8l20.6-1.7l16.2-.2l11.7-.9l32.3 2.2l23.5-2.1l5.9 .4l0-.4l-5.9-.3l-23.5 1.9l-32.3-2.2l-11.7 .8l-16.2 0l-20.6 1.4l-7.3-.9l-13.2-2.7l-10.3-.7l-42.6 3.7l-22 .4l-4.4-.5l-3 .5l-7.3-3.9l0-30.5l0 219.9z"/>
<path fill="#ffdb00" stroke="#ffdb00" stroke-width="0.6" d="M302 900.4l4.6 0l-.5-13.4l.3-13.5l1.5-14.6l2.9-15.6l1.2-2.8l1.8-2.4l2.9-2.1l4.4-2l13.2-3.5l27.9-2.7l13.2 .7l14.7-1.4l11.7 .7l8.8-1.2l33.8-2.4l39.7 1.4l10.3-1l7.8-2.4l2.5-2.4l-.1-2.5l-1.3-2.4l-3.4-3.7l-12.7-8.5l-6.7-6.1l-3.6-6.2l-.5-2.4l.3-3.7l1.3-3.6l3.2-4.9l4.6-4.9l4.4-3.7l11.5-7.2l7.4-3.4l11.7-4.4l0-.9l-16.2 6.3l-12.8 7.2l-6.5 4.9l-5 4.9l-3.8 4.9l-1.8 3.6l-.9 3.7l.3 3.6l.9 2.5l2.4 3.7l6.3 6.1l12.4 8.5l3.4 3.7l.7 2.4l-1 2.5l-4.5 2.4l-6.6 1.2l-8.4 .6l-27.9-1.4l-10.3-.1l-20.6 1.5l-10.3 .1l-10.2 1.3l-10.3-.7l-14.7 .8l-11.7-1l-16.2 .5l-33.8-1l-11.7-.1l-1.5 .8l0 24.4l1.5 1.2l1.4 0l-1.4 1.2l0 9.8l-1.5 1.2l0 37.9zM307.8 714.9l3-.5l4.4 .5l22-.4l42.6-3.7l10.3 .7l13.2 2.7l7.3 .9l20.6-1.4l16.2 0l13.2-.8l19.1 1.6l13.2 .6l20.6-1.9l7.3 0l-5.9-.4l-23.5 1.8l-32.3-2.2l-11.7 .7l-16.2-.1l-20.6 1.1l-27.9-5.1l-5.8-.1l-10.3 .7l-29.4 0l-7.3-1.2l-7.4-2.3l-7.3-5.2l-4.8-8.2l-3.7-12.2l-6.2 0l0 30.5l6.9 3.7z"/>
<path fill="#ffe600" stroke="#ffe600" stroke-width="0.6" d="M307.8 900.4l5.5 0l-.5-14.7l.5-13.4l1.5-13.4l2.4-12.3l1.8-3.6l2.3-2.5l7.1-3.6l8.8-2.1l25-3.3l14.7 0l13.2-1.8l14.7 .5l33.8-4.1l11.7-.3l33 1.3l14-1.1l13.2-2.7l10.3 .8l0-8.1l-4.4-.4l-5.9 1l-2.9-1.4l-6-5.2l-11.1-7.3l-5.9-4.9l-4.5-6.1l-1.3-4.9l.4-3.7l2.2-4.9l3.8-4.9l5.2-4.8l11.3-7.5l7.4-3.5l11.7-4.4l0-.9l-16.5 6.5l-12.4 7.3l-4.7 3.7l-5 4.9l-3.5 4.9l-1.7 3.6l-.6 3.7l.5 3.6l3.6 6.2l6.7 6.1l12.7 8.5l4.1 4.9l.9 2.4l-.2 1.3l-1.5 1.7l-3 1.6l-6.2 1.6l-11.4 .9l-38.2-1.4l-33.8 2.4l-8.8 1.2l-11.7-.7l-14.7 1.4l-13.2-.7l-30.9 3.2l-10.2 3l-5.9 2.9l-2.4 2.4l-1.9 3.7l-3.1 16.1l-1.6 19.3l.4 22zM406.2 713.6l5.9 .5l19.1-1.1l16.2 .1l13.2-.7l30.8 2.2l22.1-1.7l7.3-.1l-7.3-.3l-22.1 1.6l-30.8-2.2l-13.2 .6l-16.2-.3l-20.6 .9l-27.9-5.9l-4.4-.5l-11.7 .2l-22-2.2l-7.4-1.3l-7.3-2.9l-7.4-5.7l-7.3-10.8l-1.5-3.5l-7 0l3.3 11l2.9 6.1l2.3 3.3l7.3 5.2l7.4 2.3l7.3 1.2l29.4 0l11.7-.8l5.9 .3l21.6 4.4z"/>
<path fill="#fff000" stroke="#fff000" stroke-width="0.6" d="M313.7 900.4l6.4 0l-.5-12.2l.3-12.2l1-11l2.1-12.2l1.2-4.9l1.9-3.7l2.6-2.4l4.1-2.2l7.4-1.9l19-2.8l17.7-.9l14.7-1.8l16.1 .3l17.6-3.3l11.8-1.5l13.2-.4l25 1.1l13.2-.1l22-2.2l10.3 .6l0-2.6l-10.3-.8l-13.2 2.7l-14 1.1l-33-1.3l-11.7 .3l-33.8 4.1l-14.7-.5l-13.2 1.8l-14.7 0l-25 3.3l-8.8 2.1l-5.4 2.4l-3 2.5l-1.9 2.7l-1.4 4.3l-2.2 12.5l-1.3 12.2l-.4 13.5l.5 13.4zM509.1 816.1l2.9 .5l5.9-1.1l2.9 .5l0-2.2l-10.3-.4l-1.4-.6l-18.9-12.6l-4.6-4.3l-3-4.2l-1.3-3.7l.1-4.9l1.3-3.6l2.3-3.7l4.4-4.9l4.4-3.7l9.6-6.1l17.4-7.1l0-.9l-16.2 6.4l-7.3 4.1l-5.3 3.6l-4.4 3.7l-4.5 4.9l-3 4.9l-1.1 3.6l-.1 3.7l.7 2.4l3.8 6.2l5.4 4.8l12.8 8.6l7.4 6.1zM479.7 713.6l14.7 .5l17.6-1.5l8.8-.1l-7.3-.4l-22.1 1.6l-30.8-2.2l-13.2 .4l-16.2-.5l-22 .4l-26.5-6.6l-4.4-.7l-11.7-.6l-22-4.8l-7.4-2.8l-7.3-4.7l-8.9-11.1l-7.3 0l1.5 3.5l7.3 10.8l7.4 5.7l7.3 2.9l7.4 1.3l22 2.2l11.7-.2l4.4 .5l27.9 5.9l20.6-.9l16.2 .3l13.2-.6l17.8 1.6z"/>
<path fill="#fffa00" stroke="#fffa00" stroke-width="0.6" d="M321.1 900.4l5.3 0l-.6-13.4l.4-12.3l1.5-12.2l2.6-12.2l2.5-4.9l2.9-2.4l2.7-1.2l7.6-2.2l13.2-2.3l19.1-1.5l13.3-1.7l17.6 .1l16.1-3.4l13.3-1.7l13.2-.5l29.3 1.1l29.4-1.6l10.3 .6l0-2l-10.3-.6l-16.1 1.8l-11.8 .5l-30.8-1.1l-11.8 .2l-14.7 1.7l-17.6 3.3l-16.1-.3l-14.7 1.8l-17.7 .9l-17.6 2.6l-7.9 1.8l-5 2.5l-2.6 2.4l-1.4 2.4l-1.5 4.9l-1.8 9.8l-1.5 13.4l-.3 12.3l.5 13.4zM520.8 813.8l0-1.7l-8.8-1l-2.9-.9l-16.1-10l-4.3-3.6l-3-3.7l-1.8-3.7l-.7-3.6l.5-3.7l2.3-4.9l3.9-4.9l4.1-3.6l10.6-7l16.2-6.6l0-.9l-16.2 6.5l-5.8 3.3l-6.6 4.7l-4 3.6l-4.1 4.9l-2.4 4.9l-.6 3.7l.5 3.6l1.7 3.7l3.7 4.5l4.8 4l17.3 11.4l1.4 .6l9.5 .3zM488.5 713.6l32.3-1.5l-8.8-.3l-20.6 1.4l-30.8-2.2l-50-.1l-30.8-8.4l-13.2-1.8l-14.7-4.4l-7.3-2.6l-7.4-4.2l-7.3-5.9l-2.3-3.1l-6.6 0l8.9 11.1l7.3 4.7l7.4 2.8l22 4.8l11.7 .6l4.4 .7l27.9 6.8l50-.5l26.6 2z"/>
<path fill="#faff00" stroke="#faff00" stroke-width="0.6" d="M326.9 900.4l5.8 0l-.7-13.4l.6-13.5l1.8-12.2l2.8-10.8l2.2-3.9l3.4-2.4l2.8-1.2l8.8-2.5l10.7-1.8l27.9-3.2l16.2 .1l16.1-3.3l14.7-2l11.8-.4l30.8 .9l29.4-1.1l8.8 .7l0-1.7l-10.3-.6l-29.4 1.6l-29.3-1.1l-11.8 .3l-13.2 1.6l-17.6 3.7l-17.6-.1l-13.3 1.7l-19.1 1.5l-13.2 2.3l-7.6 2.2l-4.4 2.4l-2.1 2.4l-1.6 3.7l-1.7 7.3l-1.6 9.8l-1 11l-.2 11l.6 11zM513.5 811.2l7.3 .9l0-1.5l-8.8-1.5l-4.4-1.7l-8.8-5.1l-5.9-4.2l-4-4l-2.4-3.7l-1.1-3.6l0-3.7l1.1-3.6l2.1-3.7l7.1-7.3l9.1-6.1l5.7-2.8l10.3-3.9l0-.8l-14.7 5.8l-5.9 3.3l-5.8 4.1l-4.5 4l-3.1 3.7l-2.7 4.9l-.8 3.6l.2 3.7l1.4 3.7l5.1 6.1l5.8 4.4l11.8 7.3l2.9 1.3l2.9 .4zM475.3 712.3l17.6 .9l19.1-1.4l8.8 0l-8.8-.3l-20.6 1.3l-30.8-2.2l-13.2 .2l-16.2-.8l-20.6-.3l-7.3-1.8l-25-8.3l-11.7-2.2l-7.4-2.6l-7.3-2.6l-7.3-3.5l-10.3-8.2l-6.7 0l2.3 3.1l7.3 5.9l7.4 4.2l22 7l13.2 1.8l27.9 7.9l7.4 .7l45.5-.1l14.6 1.3z"/>
<path fill="#f0ff00" stroke="#f0ff00" stroke-width="0.6" d="M332.8 900.4l6.2 0l-.6-19.5l.8-9.8l1.6-8.6l2-7.3l2.3-6.1l2.4-2.5l4.6-2.4l7.9-2.4l8.1-1.6l24.9-3.3l17.6-.3l14.7-3.1l14.7-1.9l11.8-.5l30.8 .7l27.9-.7l10.3 .7l0-1.4l-8.8-.7l-29.4 1.1l-29.4-.9l-11.7 .3l-13.2 1.5l-19.1 3.9l-16.2-.1l-27.9 3.2l-10.7 1.8l-8.8 2.5l-4.7 2.4l-2.5 2.5l-1.5 3.6l-2 7.4l-1.7 9.7l-1 9.8l-.2 11l.7 11zM519.3 810.3l1.5 .3l0-1.4l-8.8-1.9l-4.4-1.6l-7.4-4.1l-5.2-3.8l-5.6-6.1l-1.7-3.7l-.5-3.7l.7-3.6l1.7-3.7l2.6-3.7l3.7-3.6l10.2-7.1l14.7-6.1l0-.8l-14.7 6l-10.4 6.8l-4.1 3.6l-3.8 4.9l-1.8 3.7l-.7 3.6l.4 3.7l1.5 3.7l2.8 3.6l4 3.7l7.7 5.2l7.4 3.9l8.8 1.9zM481.1 712.3l13.3 .4l17.6-1.2l8.8 0l-8.8-.4l-20.6 1.2l-30.8-2.2l-13.2 .1l-36.8-1.6l-22-7.1l-11.7-4.9l-10.3-2.3l-7.4-2.8l-7.3-3.2l-7-4.1l-4-3.7l-6.6 0l10.3 8.2l7.3 3.5l14.7 5.2l11.7 2.2l30.9 9.9l5.9 .5l16.1 0l16.2 .8l13.2-.2l19.5 1.7z"/>
<path fill="#e5ff00" stroke="#e5ff00" stroke-width="0.6" d="M340.2 900.4l5 0l-.7-13.4l.4-11l1.9-11l2.6-8.6l3.4-7.3l2.7-2.5l5.1-2.4l8.9-2.2l20.6-3.4l7.3-.7l13.2-.2l14.7-3l16.2-2.1l10.3-.4l27.9 .6l29.4-.5l11.7 .7l0-1.2l-10.3-.7l-27.9 .7l-29.4-.7l-11.7 .3l-16.2 2.1l-14.7 3.1l-17.6 .3l-24.9 3.3l-8.1 1.6l-7.9 2.4l-4.6 2.4l-2.4 2.5l-2.3 6.1l-2 7.3l-1.6 8.6l-.8 9.8l.6 19.5zM519.3 808.9l1.5 .3l0-1.3l-11.7-3.2l-5.9-3l-5.9-3.9l-5.8-6.1l-1.8-3.7l-.6-3.7l.6-3.6l1.5-3.7l2.7-3.7l3.6-3.6l8.7-6.1l5.8-2.9l8.8-3.4l0-.8l-13.2 5.4l-10.3 6.6l-4 3.6l-3.7 4.9l-1.7 3.7l-.7 3.6l.5 3.7l1.7 3.7l2.9 3.6l4.2 3.7l11.1 6.7l4.4 1.6l7 1.5zM490 712.3l22-1.2l8.8 0l-8.8-.4l-22 1.2l-29.4-2.2l-13.2-.1l-29.4-1.4l-7.2-.8l-22.2-7.7l-11.7-5.4l-10.3-2.8l-13.2-6.2l-6.9-4.8l-5.6 0l4 3.7l7 4.1l7.3 3.2l7.4 2.8l10.3 2.3l11.7 4.9l22 7.1l36.8 1.6l13.2-.1l28.8 2.2z"/>
<path fill="#dbff00" stroke="#dbff00" stroke-width="0.6" d="M346 900.4l4.3 0l-.8-11l.3-11l1.4-9.8l2.5-8.5l2.6-6.1l3-4.9l2.9-2.2l3.2-1.5l8.5-2.3l17.7-3.4l7.3-.7l11.7-.3l14.7-2.9l16.2-2.1l10.3-.4l55.8 0l13.2 .7l0-1l-11.7-.7l-28 .5l-27.9-.6l-10.2 .3l-17.7 2.2l-14.7 3l-13.2 .2l-7.3 .7l-20.6 3.4l-8.9 2.2l-5.1 2.4l-2.7 2.5l-3 6.1l-2.7 8.5l-1.7 8.6l-.7 7.3l-.2 8.6l.7 12.2zM520.8 807.9l0-1.2l-11.7-3.5l-5.8-3l-4.5-3.1l-3.3-3l-2.8-3.7l-1.1-2.4l-.7-3.7l.5-3.6l1.5-3.7l2.6-3.7l3.7-3.6l8.4-6l13.2-5.6l0-.8l-13.2 5.5l-10.1 6.9l-3.6 3.6l-2.7 3.7l-1.5 3.7l-.6 3.6l.6 3.7l1.8 3.7l5.8 6.1l10.3 6.3l4.4 1.6l7.4 1.9zM476.7 711.2l16.2 .7l17.6-1.1l10.3 0l-8.8-.4l-23.5 1l-27.9-2.1l-13.2-.2l-29.4-1.9l-5.9-.8l-16.1-5.5l-7.4-3l-10.3-5.1l-11.7-4l-7.4-3.5l-7.4-4.8l-5.3 0l6.9 4.8l13.2 6.2l10.3 2.8l11.7 5.4l22 7.6l7.4 .9l29.4 1.4l13.2 .1l15.1 1.3z"/>
<path fill="#d1ff00" stroke="#d1ff00" stroke-width="0.6" d="M350.4 900.4l4.9 0l-.8-9.8l.1-9.7l1.3-9.8l2.4-8.6l2.7-6.1l3-4.9l2-2.4l4.1-2.5l7.8-2.4l15.1-3.3l7.4-.9l10.2-.4l14.7-2.8l16.2-2.1l11.7-.5l51.4 0l16.2 .6l0-.8l-13.2-.7l-64.6 .3l-16.2 1.9l-16.2 3.2l-11.7 .3l-7.3 .7l-17.7 3.4l-8.5 2.3l-4.8 2.5l-2.2 2.4l-3.6 6.8l-2.7 7.9l-1.7 8.5l-.9 8.6l0 8.5l.8 9.8zM520.8 806.7l0-1.2l-11.7-3.7l-8.8-5.2l-3-2.8l-2.6-3.4l-1.3-2.4l-.7-3.7l.1-2.4l1.1-3.7l2.2-3.6l3.3-3.7l8.1-6.1l6-3.1l7.3-2.8l0-.8l-12.9 5.5l-8.7 6.1l-3.7 3.6l-2.6 3.7l-1.5 3.7l-.5 3.6l.7 3.7l1.9 3.7l6.2 6.1l9.4 5.4l10.4 3.1zM481.1 711.1l11.8 .4l17.6-1.1l10.3 .1l-8.8-.5l-17.6 1l-11.8-.3l-22-1.8l-14.7-.5l-30.8-2.6l-5.9-1.5l-17.2-6.7l-13.7-6.7l-11.7-4.6l-9.7-5.8l-5.1 0l7.4 4.8l7.4 3.5l11.7 4l12.5 6l19.8 7.3l7.4 1.1l29.4 1.9l13.2 .2l20.2 1.7z"/>
<path fill="#c7ff00" stroke="#c7ff00" stroke-width="0.6" d="M356.3 900.4l3.6 0l-.9-9.8l.1-9.7l1.2-8.6l2.6-8.5l2.9-6.2l4.3-6.1l2.4-2.4l4.9-2.5l18.7-4.8l14.5-1.3l16.2-2.9l16.2-2l11.7-.5l47-.2l19.1 .7l0-.8l-16.2-.6l-51.4 0l-10.2 .4l-16.2 2l-16.2 3l-10.2 .4l-7.4 .9l-15.1 3.3l-7.8 2.4l-4.1 2.5l-2.8 3.7l-3.4 6.1l-3.1 8.5l-1.5 7.3l-.8 8.6l.9 17.1zM520.8 805.5l0-1.1l-11.7-4l-8.1-5.1l-2.5-2.4l-2.7-3.7l-1-2.4l-.5-3.7l.4-2.4l1.4-3.7l2.6-3.7l3.6-3.6l6.8-4.9l11.7-5.2l0-.7l-11.2 4.7l-8.8 6.1l-3.7 3.6l-2.6 3.7l-1.1 2.5l-.7 3.6l.3 3.7l1.7 3.6l5.5 6.1l8.9 5.3l10.3 3.3zM491.4 711.1l19.1-1l10.3 0l-8.8-.4l-17.6 .9l-11.8-.3l-22-1.9l-14.7-.5l-29.4-2.9l-5.9-1.5l-17.6-7.1l-26.4-12.7l-4.9-3.2l-4.8 0l9.7 5.8l11.7 4.6l10.3 5.2l23.5 9.1l5.9 1l27.9 2.2l14.7 .5l29.8 2.1z"/>
<path fill="#bdff00" stroke="#bdff00" stroke-width="0.6" d="M360.7 900.4l3.7 0l-.9-9.8l0-8.5l1.2-8.6l2.6-8.5l3.1-6.1l4.8-6.1l4.1-3.7l5.2-2.5l14.4-3.9l11.7-1.3l19.1-3.2l14.7-1.8l54.4-.7l22 .6l0-.7l-17.6-.7l-58.8 .6l-16.1 1.9l-17.7 3.1l-14.5 1.3l-18.7 4.8l-4.9 2.5l-3.4 3.7l-4 6.1l-3.1 7.3l-1.9 7.3l-1.1 8.6l0 8.5l.9 9.8zM519.3 803.9l1.5 .5l0-1.1l-11.7-4.2l-7.4-5l-4-4.9l-1.1-2.4l-.6-3.7l.3-2.4l1.4-3.7l4.9-6.1l6.5-5.1l4.4-2.4l7.3-3l0-.8l-10.3 4.4l-8.2 5.7l-3.6 3.6l-2.6 3.7l-1.4 3.7l-.4 2.4l.5 3.7l1 2.4l2.7 3.7l2.5 2.4l8.1 5.1l10.1 3.5zM476.7 709.9l14.7 .8l19.1-1l10.3 .4l-8.8-.8l-16.2 .9l-13.2-.3l-22-1.9l-13.2-.5l-29.4-3.3l-7.4-2l-16.1-6.8l-20.6-10.4l-7.7-4.5l-4.5 0l4.9 3.2l23.7 11.5l23.3 9.1l4.4 .9l27.9 2.7l14.7 .5l15.1 1.4z"/>
<path fill="#b2ff00" stroke="#b2ff00" stroke-width="0.6" d="M365.1 900.4l3.1 0l-1-9.8l0-8.5l1.4-8.6l2.4-7.3l3.2-6.1l3.8-4.9l5.5-4.9l4.3-2.4l6.6-2.5l8.9-2.1l42.6-6.1l51.4-.9l23.5 .7l0-.7l-20.6-.6l-54.3 .6l-47 6.4l-14.4 3.9l-5.2 2.5l-5.2 4.9l-3.7 4.9l-3.5 7.3l-2.5 8.5l-.9 7.4l0 8.5l.9 9.8zM519.3 802.8l1.5 .5l0-1l-10.3-3.8l-6.8-4.4l-4.2-4.9l-1.1-2.4l-.7-3.7l.2-2.4l1.4-3.7l4.8-6.1l6.2-4.9l10.5-4.9l0-.7l-10 4.4l-6.9 4.9l-3.6 3.6l-2.6 3.7l-1.4 3.7l-.3 2.4l.6 3.7l1.1 2.4l2.5 3.5l2.9 2.6l7.4 4.5l8.4 2.9zM481.1 709.9l11.8 .4l17.6-1l10.3 .2l-10.3-.5l-14.7 .8l-13.2-.2l-35.2-2.7l-29.4-3.7l-6.2-1.9l-18.8-8.2l-18.7-10.2l-3.4-2.4l-4.7 0l7.7 4.5l17.7 9.1l19 8.1l4.5 1.3l30.8 3.8l34.7 2.5z"/>
<path fill="#a8ff00" stroke="#a8ff00" stroke-width="0.6" d="M368.1 899.4l.1 1l3.7 0l-1-11l.2-8.5l1.6-8.6l3-7.3l3-4.9l4.4-4.9l5.5-4.4l5.7-2.9l11.9-3.8l26.5-4.3l14.7-1.8l47-1l26.4 .7l0-.7l-22-.7l-51.4 .8l-14.7 1.7l-29.4 4.5l-8.8 2.1l-5.9 2.1l-5.1 2.8l-5.5 4.9l-4.5 6.1l-3 6.1l-2.2 7.3l-1.1 7.4l0 8.5l.8 8.6zM519.3 801.7l1.5 .6l0-1.1l-10.3-3.9l-6.1-4.4l-3.8-4.9l-.9-2.4l-.3-3.7l1.5-4.9l4.7-6.1l6.3-4.9l8.9-4.1l0-.8l-8.4 3.7l-7 4.9l-5.4 6.1l-1.7 3.7l-.6 2.4l.3 3.7l.9 2.4l4.3 5.6l5.9 4.2l9.4 3.6zM490 709.8l20.5-.8l10.3 .1l-10.3-.5l-14.7 .8l-13.2-.2l-35.2-2.8l-27.9-4l-5.9-1.8l-19.1-8.4l-13.2-7.2l-6.8-4.5l-3.6 0l3.4 2.4l18.7 10.2l18.8 8.2l6.2 1.9l29.4 3.7l42.4 2.9z"/>
<path fill="#9eff00" stroke="#9eff00" stroke-width="0.6" d="M372.5 900.4l2.8 0l-1.1-9.8l.2-9.7l1.5-7.4l2.9-7.3l4.1-6.1l4.8-4.9l5.3-3.7l7.4-3.6l10.2-3.2l24.4-4.2l13.8-1.8l44.1-1.1l27.9 .7l0-.6l-26.4-.7l-47 1l-14.7 1.8l-26.5 4.3l-11.9 3.8l-6.7 3.6l-5.8 4.9l-3.9 4.9l-3.4 6.1l-2.4 7.3l-1.2 7.4l0 8.5l1 9.8zM519.3 800.7l1.5 .5l0-.9l-10.3-4.3l-5.4-4.3l-3.3-4.9l-.8-4.9l1.5-4.9l4.6-6.1l4.4-3.7l9.3-4.6l0-.7l-7.3 3.2l-6.6 4.6l-5.3 6.1l-1.7 3.7l-.5 2.4l.3 3.7l.9 2.4l3.8 4.9l6.1 4.4l7.6 2.9zM475.3 708.6l16.1 .9l19.1-.9l10.3 .5l-8.8-.8l-19.1 .8l-14.7-.6l-30.8-2.7l-27.9-4.4l-4.4-1.4l-8.9-4.6l-11.7-4.8l-13.2-7.6l-3.3-2.5l-3.5 0l6.8 4.5l11.8 6.5l19.1 8.5l5.8 2.1l27.9 4.1l29.3 2.4z"/>
<path fill="#94ff00" stroke="#94ff00" stroke-width="0.6" d="M375.4 900.4l3.3 0l-1.2-9.8l0-8.5l1.4-7.4l2.9-7.3l3.2-4.9l4.5-4.9l5-3.8l7.3-3.9l11.8-4.2l20.8-3.9l14.4-2.2l35.3-1.3l20.5 0l16.2 .6l0-.6l-27.9-.7l-44.1 1.1l-13.8 1.8l-24.4 4.2l-10.2 3.2l-7.4 3.6l-5.8 4.2l-5.3 5.6l-3.7 6.1l-2.7 7.3l-1.2 7.4l-.1 8.5l1.1 9.8zM520.8 800.3l0-1l-8.8-3.7l-5.1-3.9l-3.3-4.9l-.9-4.9l1.3-4.9l4.5-6.1l5-4l7.3-3.5l0-.8l-7.4 3.4l-6.3 4.9l-4.6 6.1l-1.3 3.7l-.2 2.4l1.4 4.9l3.9 4.9l5.7 3.9l8.7 3.4zM481.1 708.7l11.8 .4l16.2-.8l10.2 .5l1.5-.4l-10.3-.5l-19.1 .8l-14.7-.7l-29.3-2.7l-26.5-4.6l-4.4-1.3l-10.3-5.6l-10.2-4l-15-9.3l-3 0l3.3 2.5l12.6 7.3l24.1 10.8l29.4 4.7l32.6 2.8z"/>
<path fill="#8aff00" stroke="#8aff00" stroke-width="0.6" d="M379.8 900.4l1.9 0l-1.3-9.8l.2-9.7l1.4-6.2l2.5-6.1l3.1-4.8l4.5-4.9l5.3-4l7.4-3.9l8.1-3.1l8-2.2l28.3-5.2l34.9-1.6l20.5 0l16.2 .6l0-.6l-29.4-.7l-42.6 1.4l-14.4 2.2l-20.8 3.9l-11.8 4.2l-7.3 3.9l-5 3.8l-4.5 4.9l-4.3 7.4l-2.1 6.1l-1.2 7.3l.2 8.5l1.1 8.6zM520.8 799.3l0-.9l-7.2-3.1l-4.9-3.6l-3.4-4.9l-1-4.9l1.3-4.9l3.2-4.9l3.9-3.6l8.1-4.3l0-.8l-7.3 3.5l-5 4l-4.5 6.1l-1.3 4.9l.9 4.9l3.3 4.9l5.1 3.9l8 3.4zM488.5 708.6l20.6-.7l10.2 .5l1.5 0l0-.3l-10.3-.6l-11.7 .7l-14.7-.1l-35-3.2l-9.1-1.4l-22-4.7l-10.3-5.9l-11.7-4.7l-11.7-7.7l-3.3 0l15 9.3l10.2 4l9.1 5l4.2 1.6l27.9 4.9l39.9 3.3z"/>
<path fill="#80ff00" stroke="#80ff00" stroke-width="0.6" d="M382.7 900.4l2 0l-1.4-9.8l.3-9.7l1.4-6.2l2-4.8l3.1-4.9l4.5-4.9l5.8-4.3l7.3-3.8l16.1-5.4l16.6-3.6l9.9-1.6l33.8-1.8l19.1-.2l17.6 .7l0-.6l-29.4-.7l-41.1 1.6l-28.1 5l-9.3 2.5l-8.1 3.1l-7.4 3.9l-5.3 4l-4.5 4.9l-3.7 6.1l-2.3 6.1l-1.2 7.3l.1 8.5l1.2 8.6zM519.3 797.8l1.5 .6l0-1l-7.3-3.3l-4.2-3.7l-2.4-3.6l-.9-4.9l1.1-4.9l3.1-4.9l3.9-3.6l6.7-3.5l0-.8l-6.3 3l-4.6 3.7l-4.3 6.1l-1.3 4.9l1 4.9l3.4 4.9l4.8 3.5l5.8 2.6zM475.3 707.4l11.7 .8l23.5-.7l10.3 .6l0-.4l-10.3-.5l-11.7 .6l-14.7 0l-33.8-3.3l-10.3-1.7l-22-5.1l-9.8-6.2l-12.2-4.9l-8.7-6.1l-3 0l11.7 7.7l11.7 4.7l7.8 4.7l4 1.7l27.9 5.4l27.1 2.7z"/>
<path fill="#75ff00" stroke="#75ff00" stroke-width="0.6" d="M385.7 900.4l1.9 0l-1.3-8.6l-.1-8.5l1.1-6.1l2.3-6.1l3-4.9l4.5-4.9l4.7-3.7l7.4-4l8.8-3.4l12.2-3.6l15.7-3.5l7.3-1.1l30.9-1.8l19.1-.2l17.6 .7l0-.6l-30.8-.7l-38.2 1.8l-11.4 1.8l-16.6 3.6l-16.1 5.4l-7.3 3.8l-5.8 4.3l-4.5 4.9l-3.7 6.1l-2.1 6.1l-1 6.1l.1 8.5l1.3 8.6zM519.3 796.9l1.5 .5l0-.9l-7.2-3.6l-3.6-3.7l-1.9-3.6l-.5-3.7l1-4.9l2.9-4.9l4.1-3.6l5.2-2.7l0-.8l-6.7 3.5l-3.9 3.6l-3.1 4.9l-1.1 4.9l.9 4.9l2.4 3.6l4.2 3.7l5.1 2.5zM479.7 707.4l19.1 .4l11.7-.6l10.3 .5l0-.3l-10.3-.6l-11.7 .7l-14.7-.1l-14.7-1.2l-26.4-3.4l-23.5-5.8l-10.3-6.6l-13.2-5.4l-5.8-4.5l-2.9 0l8.7 6.1l12.2 4.9l7.5 4.9l3.8 1.8l27.9 6l31.9 3.2z"/>
<path fill="#6bff00" stroke="#6bff00" stroke-width="0.6" d="M388.6 900.4l1.9 0l-1.2-7.3l-.3-8.6l.9-6.1l2.2-6.1l2.9-4.9l4.4-4.9l5.4-4.1l7.3-4l8.8-3.3l13.2-3.9l11.8-2.9l8.8-1.5l29.4-2l19.1-.1l17.6 .6l0-.6l-32.3-.6l-35.3 1.9l-7.3 1.1l-15.7 3.5l-12.2 3.6l-8.8 3.4l-7.4 4l-4.7 3.7l-4.5 4.9l-3.6 6.1l-2 6.1l-.9 6.1l.4 8.6l1.1 7.3zM519.3 795.9l1.5 .6l0-.9l-5.4-2.7l-3.9-3.7l-1.8-3.6l-.4-4.9l1.2-4.9l2.3-3.7l3.6-3.2l4.4-2.3l0-.8l-5.2 2.7l-4.1 3.6l-2.4 3.7l-1.4 4.9l.4 4.9l1.9 3.6l3.6 3.7l4.4 2.4zM485.6 707.4l13.2 .1l11.7-.7l8.8 .6l1.5 0l0-.4l-10.3-.6l-11.7 .7l-14.7-.1l-14.7-1.2l-24.9-3.3l-25-6.7l-10.2-6.7l-10.4-4.2l-2.9-1.6l-3.3-2.8l-2.5 0l5.8 4.5l13.2 5.4l8.8 6l2.9 1.1l26.5 6.1l36.9 3.8z"/>
<path fill="#61ff00" stroke="#61ff00" stroke-width="0.6" d="M391.6 900.4l1.5 0l-1.5-9.8l.1-8.5l1.1-4.9l2-4.9l3.1-4.9l4.7-4.9l5.1-3.7l6.9-3.6l9.3-3.5l11.7-3.5l11.8-3.1l8.8-1.5l27.9-2.1l19.1-.2l17.6 .6l0-.6l-32.3-.6l-19.1 .8l-14.7 1.3l-8.8 1.5l-11.8 2.9l-13.2 3.9l-8.8 3.3l-7.3 4l-5.4 4.1l-4.4 4.9l-2.9 4.9l-2.2 6.1l-.9 6.1l.3 8.6l1.2 7.3zM520.8 795.6l0-1l-4.4-2.2l-3.4-3.2l-1.8-3.6l-.5-3.7l.7-4.9l1.8-3.7l3.2-3.3l4.4-2.5l0-.9l-4.4 2.3l-3.6 3.2l-2.8 4.9l-.8 4.9l1 4.9l2.3 3.6l2.9 2.5l4.8 2.4zM473.8 706.2l11.8 .8l13.2 .1l11.7-.7l10.3 .6l0-.4l-10.3-.6l-11.7 .7l-14.7-.1l-14.7-1.2l-22-2.9l-26.5-7.4l-10.3-6.6l-10.2-4.3l-5.4-3.7l-2.3 0l4.7 3.7l11.9 4.9l8.7 5.9l3 1.4l26.4 6.7l26.2 3.1z"/>
<path fill="#57ff00" stroke="#57ff00" stroke-width="0.6" d="M393 900l.1 .4l2.5 0l-1.3-7.3l-.4-8.6l1-6.1l2.5-6.1l3.4-4.9l4-4l5.8-4.2l5.9-3.1l8.6-3.3l10.5-3.2l13.2-3.6l9.8-1.8l27-2.1l17.6-.2l17.6 .6l0-.6l-30.8-.6l-17.7 .8l-14.7 1.3l-8.8 1.4l-12 3.1l-12.9 3.8l-9.3 3.5l-6.9 3.6l-5.1 3.7l-4.7 4.9l-3.1 4.9l-2 4.9l-1.2 6.1l0 7.3l1.2 8.6zM520.8 794.6l0-1l-3.7-1.9l-2.6-2.5l-1.8-3.6l-.5-3.7l.3-3.7l1.3-3.6l2.9-3.7l4.1-2.5l0-.9l-4.4 2.5l-2.9 3l-2.1 4l-.6 3.7l.4 4.9l1.8 3.6l2.4 2.5l4.2 2.4zM479.7 706.2l19.1 .5l11.7-.7l10.3 .6l0-.4l-10.3-.5l-11.7 .6l-14.7-.1l-14.7-1.1l-22-3.2l-7.5-1.9l-18.5-6.1l-9.3-5.9l-8.9-3.8l-5.6-3.7l-2.6 0l5.4 3.7l10.2 4.3l8 5.4l5.3 2.2l23.5 6.4l22 2.9l9.2 .8z"/>
<path fill="#4cff00" stroke="#4cff00" stroke-width="0.6" d="M396 900.4l2.2 0l-1.4-7.3l-.4-8.6l1-6.1l2-4.9l3.2-4.9l3.6-3.8l5.9-4.4l5.9-3.1l8-3.3l11.1-3.5l13.2-3.7l10.3-1.9l26.4-2.2l16.2-.2l17.6 .6l0-.6l-16.2-.6l-16.1 .1l-17.6 .9l-12.3 1.3l-9.8 1.8l-14.7 4l-10.2 3.2l-8 3.2l-6.7 3.7l-4.8 3.7l-4.6 4.8l-3 4.9l-1.9 4.9l-1 6.1l.4 8.6l1.3 7.3zM519.3 792.9l1.5 .7l0-1l-3.6-2.2l-2.7-3.6l-.7-2.5l-.1-4.8l.8-3.7l1.3-2.5l2.1-2.1l2.9-1.9l0-.9l-4.1 2.5l-2.2 2.4l-1.7 3.7l-.6 3.7l.2 3.6l1.3 3.7l1.9 2.4l3.6 2.5zM484.1 706.2l14.7 .1l11.7-.6l8.8 .5l1.5 0l0-.4l-11.7-.5l-10.3 .6l-14.7-.1l-14.7-1.1l-22-3.4l-7.4-2l-17.6-6.3l-10.3-6.2l-8.5-3.9l-3.4-2.4l-2.6 0l5.6 3.7l8.9 3.8l8.8 5.7l19.1 6.4l14.7 3l14.7 2l14.3 1.1z"/>
<path fill="#42ff00" stroke="#42ff00" stroke-width="0.6" d="M398.9 900.4l1.7 0l-1.4-7.3l-.4-7.4l.8-6.1l1.8-4.9l3-4.8l3.4-3.7l5.8-4.6l5.9-3.3l8.8-3.7l11.7-3.7l13.2-3.6l8.9-1.7l24.9-2.3l16.2-.2l17.6 .6l0-.6l-30.8-.5l-27.9 2.1l-16.2 3.3l-16.3 4.8l-11.6 4.5l-7.2 4l-4.7 3.7l-4.4 4.9l-2.9 4.8l-1.7 4.9l-.7 6.1l.4 7.4l1.4 7.3zM519.3 791.8l1.5 .8l0-1.1l-2.9-2l-2-2.7l-.7-2.5l-.1-4.8l1.2-4.9l2-2.5l2.5-1.7l0-1.1l-2.9 1.9l-2.1 2.1l-1.3 2.5l-.8 3.7l.1 4.8l.7 2.5l1.5 2.4l3 2.5zM473.8 705l11.8 .8l23.5-.5l11.7 .5l0-.4l-10.3-.5l-26.4 .5l-14.7-1.1l-20.6-3.3l-8.8-2.5l-15.1-5.8l-11.3-6.3l-7.6-3.5l-3.5-2.4l-2.3 0l3.4 2.4l8.5 3.9l9.7 5.9l18.2 6.6l11.8 2.8l20.9 2.8z"/>
<path fill="#38ff00" stroke="#38ff00" stroke-width="0.6" d="M400.4 899.2l.2 1.2l2.2 0l-1.4-7.3l-.5-7.4l.8-6.1l1.9-4.9l3.2-4.8l3.8-4l5.9-4.3l5.9-3.1l10.3-4.1l13.2-4.1l19.1-4.2l23.5-2.2l16.1-.2l16.2 .6l0-.6l-29.4-.5l-26.4 2l-16.2 3.2l-16.1 4.7l-10.3 3.9l-7.3 3.7l-6 4.3l-4.7 4.9l-3 4.8l-1.8 4.9l-.8 4.9l.4 8.6l1.2 6.1zM519.3 790.6l1.5 .9l0-1.3l-2.6-2.2l-1.3-2.4l-.6-6.1l.8-3.7l1.5-2.5l2.2-1.7l0-1.2l-3.7 2.9l-2 4.9l.4 7.4l1.1 2.4l2.5 2.4zM478.2 704.9l8.8 .6l22.1-.6l11.7 .5l0-.4l-10.3-.5l-26.4 .5l-14.7-1.1l-19.1-3.2l-10.3-3l-14.7-6.1l-17.6-8.9l-3.1-2.2l-2.1 0l3.5 2.4l7.9 3.7l8.5 5l18.5 7.2l13.8 3.3l14.7 2.2l8.8 .6z"/>
<path fill="#2eff00" stroke="#2eff00" stroke-width="0.6" d="M403.3 900.4l1.7 0l-1.5-7.3l-.5-7.4l.6-4.8l1.6-4.9l3-4.9l3.9-4.2l5.8-4.4l6-3.2l8.8-3.7l13.2-4.2l10.3-2.7l10.3-2l23.5-2.1l14.6-.2l16.2 .5l0-.6l-29.4-.5l-13.2 .8l-13.2 1.5l-10.3 1.9l-10.3 2.7l-14 4.5l-8.8 3.7l-6.5 3.6l-4.8 3.7l-4.4 4.9l-2.8 4.9l-1.6 4.9l-.6 4.8l.5 7.4l1.4 7.3zM520.8 790.2l0-1.5l-1.8-1.9l-1.1-2.4l-.5-3.7l.6-3.7l1.2-2.4l1.6-1.7l0-1.3l-3.1 3l-1.4 4.9l.6 6.1l2.5 3.6zM484.1 705l14.7 .1l10.3-.6l10.2 .5l1.5 0l0-.4l-11.7-.5l-25 .5l-14.7-1.1l-14.7-2.4l-7.3-1.7l-7.4-2.6l-16.1-7.2l-14.7-7.2l-2.9-1.9l-1.7 0l3.1 2.2l16.2 8.2l19.4 7.9l9.7 2.5l14.9 2.4l15.7 1.2z"/>
<path fill="#24ff00" stroke="#24ff00" stroke-width="0.6" d="M404.8 899.5l.2 .9l2.1 0l-1.6-7.3l-.4-7.4l.9-6.1l2-4.9l3.6-4.8l3.8-3.7l5.3-3.7l6.1-3.2l8.8-3.5l11.8-3.8l20.5-4.6l22.1-2.2l14.6-.2l16.2 .6l0-.7l-27.9-.5l-25 2.1l-10.3 1.8l-10.2 2.6l-13.5 4.3l-9.1 3.7l-6.9 3.6l-5 3.7l-4.7 4.9l-3 4.9l-1.6 4.9l-.6 4.8l.5 7.4l1.2 6.1zM520.8 788.7l0-1.8l-1.5-2.6l-.7-3.6l.7-3.6l1.5-2.4l0-1.8l-2.3 2.9l-1.1 4.9l.5 3.7l2.1 3.6zM472.3 703.7l14.7 .9l22.1-.5l11.7 .5l0-.4l-10.3-.5l-26.4 .4l-14.7-1.1l-14.7-2.5l-7.3-1.8l-6.2-2.3l-33.3-15.9l-1.6 0l2.9 1.9l16.1 7.9l16.8 7.3l12.6 3.5l17.6 2.6z"/>
<path fill="#1aff00" stroke="#1aff00" stroke-width="0.6" d="M407.7 900.4l1.6 0l-1.7-7.3l-.4-8.6l.9-4.9l1.5-3.6l3.2-4.9l3.7-3.7l5-3.6l6.7-3.7l9-3.7l11.6-3.8l20.6-4.6l20.6-2l14.6-.3l16.2 .5l0-.6l-27.9-.5l-13.2 .8l-11.8 1.5l-20.5 4.6l-13.3 4.3l-8.9 3.8l-6.4 3.7l-4.8 3.6l-4.4 4.9l-2.7 4.9l-1.5 4.9l-.3 4.9l.6 7.3l1.4 6.1zM520.8 786.9l-.8-6.2l.8-6l-1.5 2.4l-.7 3.6l.7 3.6l1.4 2.5zM478.2 703.7l11.8 .6l19.1-.6l11.7 .5l0-.4l-10.3-.5l-26.4 .4l-14.7-1.1l-14.3-2.6l-8.7-2.4l-29.9-14.3l-7.1-2.8l-1.5 0l32.1 15.4l7.4 2.8l18.4 3.8l12.3 1.2z"/>
<path fill="#0fff00" stroke="#0fff00" stroke-width="0.6" d="M409.2 900.1l2.2 .3l-1.7-7.3l-.5-7.4l.6-4.8l1.9-4.9l2.4-3.7l3.9-4.1l4.4-3.3l6.3-3.6l8.4-3.7l11.7-4l20.6-4.7l20.6-2.2l14.6-.3l16.2 .5l0-.7l-26.4-.4l-13.3 .8l-10.7 1.3l-11.3 2.1l-10.3 2.6l-11.6 3.8l-9 3.7l-6.7 3.7l-5 3.6l-3.7 3.7l-3.2 4.9l-1.9 4.9l-.6 4.8l.5 7.4l1.3 6.1zM520.8 784.1l0-6.7l-.8 3.3l.4 2.4zM484.1 703.7l25-.4l10.2 .5l1.5 0l0-.5l-11.7-.4l-25 .4l-14.7-1.1l-11.6-2.2l-10.4-2.8l-27.9-13.7l-8.4-3l-1.7 0l7.1 2.8l30.9 14.7l7.7 2l12.8 2.4l16 1.3z"/>
<path fill="#05ff00" stroke="#05ff00" stroke-width="0.6" d="M412.1 900.4l1.4 0l-1.9-7.3l-.5-4.9l.2-4.9l1.3-4.9l1.9-3.7l4-4.8l5.4-4.3l5.8-3.5l8.9-3.9l10.2-3.6l20.6-4.9l22-2.4l14.7-.3l14.7 .6l0-.7l-26.4-.4l-23.5 2.2l-11.8 2.2l-10.3 2.7l-11.7 4l-8.4 3.7l-6.4 3.7l-4.8 3.6l-3.4 3.7l-3 4.9l-1.6 4.9l-.3 4.9l.7 7.3l1.5 6.1zM473.8 702.6l14.7 .8l20.6-.5l11.7 .4l0-.4l-10.3-.4l-26.4 .4l-14.7-1.1l-7.3-1.4l-7.2-1.6l-7.4-2.4l-11.9-6.4l-16.1-7.8l-5.1-1.7l-3.3 0l8.4 3l29 14.1l9.3 2.4l14.7 2.5z"/>
<path fill="#00ff05" stroke="#00ff05" stroke-width="0.6" d="M413.6 900.4l1.4 0l-1.8-7.3l-.5-8.6l.7-3.6l1.4-3.7l2.3-3.7l3.8-4.2l4.4-3.4l5.9-3.4l8.8-3.9l10.3-3.6l10.3-2.7l11.7-2.3l20.6-2.1l13.2-.3l14.7 .6l0-.6l-26.4-.4l-23.5 2.3l-13.3 2.7l-8.8 2.4l-10.2 3.6l-8.9 3.9l-5.8 3.5l-5.4 4.3l-4 4.8l-1.9 3.7l-1.3 4.9l-.2 4.9l.5 4.9l1.9 7.3zM479.7 702.6l11.7 .5l17.7-.6l11.7 .4l0-.4l-10.3-.4l-26.4 .3l-14.7-1.1l-6.6-1.3l-13.1-3.6l-14.1-7.6l-16.1-7.8l-1.4-.5l-3.7 0l6.5 2.4l27.9 14l6.1 1.9l11.5 2.5l12.2 1.2z"/>
<path fill="#00ff0f" stroke="#00ff0f" stroke-width="0.6" d="M415.1 900.4l1.5 0l-1.9-7.3l-.5-8.6l.7-3.6l1.4-3.7l2.4-3.7l3.7-3.9l4.4-3.4l6.4-3.7l8.4-3.6l10.2-3.6l20.5-4.6l20.6-2.2l13.2-.3l14.7 .6l0-.6l-25-.4l-23.5 2.2l-11.7 2.3l-10.3 2.7l-10.3 3.6l-8.8 3.9l-6.3 3.7l-4.5 3.7l-3.3 3.6l-2.9 4.9l-1.3 4.9l-.2 4.9l.7 6.1l1.6 6.1zM485.6 702.5l23.5-.4l11.7 .4l0-.5l-11.7-.3l-22.1 .4l-16.1-1.1l-5.8-1l-9.9-2.4l-4.9-1.9l-13.2-7.3l-16-7.9l-3 0l17.5 8.3l11.8 6.6l5.8 2.2l16.2 3.7l15.7 1.2z"/>
<path fill="#00ff1a" stroke="#00ff1a" stroke-width="0.6" d="M416.5 900.3l1.6 .1l-1.9-7.3l-.5-8.6l.7-3.6l1.5-3.7l2.4-3.7l3.6-3.7l4.7-3.6l6.6-3.7l8.5-3.6l9.5-3.3l19.1-4.3l20.6-2.2l13.2-.3l14.7 .6l0-.6l-23.5-.5l-11.7 .7l-11.8 1.4l-11.7 2.2l-9.9 2.6l-18.1 6.9l-5.4 2.9l-5.2 3.6l-3.8 3.7l-3.4 4.9l-1.4 3.7l-.8 4.8l.6 7.4l1.5 6.1zM473.8 701.3l16.2 .9l19.1-.5l11.7 .3l0-.4l-11.7-.3l-22.1 .4l-20.5-1.9l-12.5-3.4l-30.6-15.9l-2.3 0l30.9 15.9l13.1 3.6l8.5 1.3z"/>
<path fill="#00ff24" stroke="#00ff24" stroke-width="0.6" d="M418 900.1l1.6 .3l-1.7-6.1l-.8-6.1l.2-4.9l1.5-4.9l3.1-4.9l3.4-3.5l5.2-3.8l5.1-2.9l8.8-3.9l8.7-3l19.2-4.4l20.6-2.3l13.2-.3l14.7 .6l0-.6l-23.5-.5l-11.7 .7l-11.8 1.5l-20.6 4.5l-9.5 3.3l-8.5 3.6l-6.6 3.7l-4.8 3.7l-3.5 3.6l-3 4.9l-1.3 3.7l-.4 4.9l.6 6.1l1.5 6.1zM481.1 701.4l10.3 .4l17.7-.5l11.7 .3l0-.5l-32.3 .2l-20.6-1.7l-13.2-3.8l-12.1-6.7l-17.1-8.6l-2.1 0l31.3 16.2l13.2 3.4l12 1.2z"/>
<path fill="#00ff2e" stroke="#00ff2e" stroke-width="0.6" d="M419.5 900l.1 .4l1.5 0l-1.7-6.1l-.9-7.3l.5-4.9l1.3-3.7l2.2-3.7l4.3-4.5l4.4-3.3l5.9-3.3l16.1-6.5l8.9-2.4l11.7-2.3l20.6-2.2l13.2-.2l13.2 .6l0-.6l-23.5-.5l-22 2l-20.6 4.4l-8.8 3l-8.8 3.7l-6.6 3.6l-5 3.7l-3.6 3.6l-3.1 4.9l-1.3 3.7l-.4 4.9l.6 6.1l1.5 6.1zM488.5 701.3l32.3-.2l0-.4l-32.3 .2l-20.6-1.8l-12.6-3.9l-10.9-6.3l-16.7-8.4l-2.2 0l30.7 15.9l13.2 3.5l17.7 1.4z"/>
<path fill="#00ff38" stroke="#00ff38" stroke-width="0.6" d="M420.9 899.8l.2 .6l1.6 0l-1.8-6.1l-.8-7.3l.4-4.9l1.4-3.7l2.2-3.7l4.2-4.3l4-3l6.4-3.7l15.4-6.1l9.4-2.5l11.8-2.3l20.5-2l11.8-.2l13.2 .6l0-.6l-23.5-.5l-22 2.1l-19.7 4.2l-8.2 2.7l-8.8 3.8l-6.2 3.3l-5.2 3.7l-3.7 3.6l-3.2 4.9l-1.3 3.7l-.5 4.9l.6 6.1l1.6 6.1zM476.7 700.1l14.7 .8l16.2-.5l13.2 .3l0-.5l-11.7-.2l-20.6 .4l-19.5-1.6l-11.6-3.6l-12.7-7.4l-10.6-4.7l-4.5-2.6l-1.9 0l16.7 8.4l11.8 6.6l10.4 3.3l9.1 1.2z"/>
<path fill="#00ff42" stroke="#00ff42" stroke-width="0.6" d="M422.4 899.6l.3 .8l1.7 0l-1.8-6.1l-.9-7.3l.5-4.9l1.3-3.7l2.4-3.7l3.8-3.9l4.6-3.4l6.7-3.6l7.8-3.4l8.1-2.8l18.4-4l19.1-2l13.2-.3l13.2 .6l0-.7l-22-.5l-13.2 .8l-9.9 1.3l-12.2 2.3l-8.8 2.4l-7.6 2.6l-8.4 3.7l-6.4 3.6l-4 3l-4.2 4.3l-2.2 3.7l-1.4 3.7l-.4 4.9l.8 7.3l1.3 4.9zM482.6 700.1l8.8 .4l29.4-.3l0-.4l-30.8 .3l-20.6-1.8l-9.7-3.1l-13.8-7.9l-11.8-5l-3-1.8l-1.5 0l4.5 2.6l10.6 4.7l10.2 6.1l5.8 2.5l8.7 2.5l12.2 1.1z"/>
<path fill="#00ff4c" stroke="#00ff4c" stroke-width="0.6" d="M425.3 900.4l.8 0l-1.9-6.1l-.9-7.3l.3-3.7l1.1-3.7l2.1-3.6l3.2-3.7l4.5-3.7l6.2-3.6l8.1-3.7l7.4-2.6l19.1-4.4l19.1-2l13.2-.3l13.2 .6l0-.7l-22-.5l-22.1 1.9l-19.8 4.3l-8.1 2.8l-8.8 3.8l-5.7 3.2l-4.9 3.7l-3.5 3.6l-2.9 4.9l-1.1 3.7l-.2 4.9l.9 6.1l1.8 6.1zM490 700.1l30.8-.3l0-.5l-30.8 .3l-20.6-1.8l-10.2-3.9l-13.3-7.7l-10.3-3.9l-3.1-1.8l-1.4 0l3 1.8l11.8 5l11.2 6.6l7.9 3.2l5.9 1.5l18.7 1.4z"/>
<path fill="#00ff57" stroke="#00ff57" stroke-width="0.6" d="M426.8 900.4l1.1 0l-2-6.1l-.9-7.3l.2-3.7l1.2-3.7l2.1-3.6l3.4-3.7l4.7-3.7l6.3-3.6l7.4-3.3l8.2-2.8l18.2-4.1l19.1-1.9l13.3-.2l11.7 .6l0-.7l-22-.5l-22.1 2l-19.1 4.2l-8.8 3l-8.1 3.7l-6.2 3.6l-4.5 3.7l-3.2 3.7l-2.1 3.6l-1.1 3.7l-.2 4.9l.8 6.1l1.9 6.1zM479.7 698.9l11.7 .7l29.4-.3l0-.5l-11.7-.1l-20.6 .4l-19.1-2l-8.1-3.2l-13.9-8.1l-7.4-2.5l-6.2-2.8l-1.3 0l3.1 1.8l11.2 4.3l12.4 7.3l5.6 2.5l4.6 1.4l9.2 1z"/>
<path fill="#00ff61" stroke="#00ff61" stroke-width="0.6" d="M428.3 900.4l1.3 0l-2.2-7.3l-.7-7.4l1.4-6.1l2.2-3.6l3.4-3.7l4.9-3.7l5.8-3.3l14.7-5.8l17.6-3.9l19.1-2l13.3-.2l11.7 .6l0-.7l-22-.5l-20.6 1.8l-19.1 4.1l-8.8 3l-7.4 3.3l-6.3 3.6l-4.7 3.7l-3.4 3.7l-2.1 3.6l-1.2 3.7l-.1 4.9l.8 6.1l2 6.1zM484.1 698.9l36.7-.1l0-.4l-30.8 .3l-19.1-1.9l-7.6-2.9l-14.5-8.5l-8.8-2.7l-5-2.2l-1.2 0l15 6l12.5 7.4l5.5 2.5l4.1 1l12.6 1.4z"/>
<path fill="#00ff6b" stroke="#00ff6b" stroke-width="0.6" d="M429.7 900.4l1.7 0l-2.1-6.1l-.9-6.1l.2-4.9l1.2-3.7l2.3-3.6l3.5-3.7l5-3.7l5.3-2.9l7.1-3.2l7.6-2.5l17.6-3.9l17.6-1.8l13.3-.2l11.7 .6l0-.7l-20.6-.6l-21.1 1.8l-18.5 3.9l-8.8 3l-7.4 3.2l-5.8 3.3l-4.9 3.7l-3.4 3.7l-2.2 3.6l-1.2 3.7l-.2 4.9l.9 6.1l2 6.1zM478.2 697.8l13.2 1l29.4-.4l0-.5l-11.7-.1l-20.6 .4l-17.6-2.1l-5.6-2.2l-7.7-4.8l-8.8-4.7l-13.8-3.9l5 2.2l8.8 2.7l17.7 10l2.9 1.1l7.5 1.1z"/>
<path fill="#00ff75" stroke="#00ff75" stroke-width="0.6" d="M431.2 900l.2 .4l1.7 0l-2.1-6.1l-.9-4.9l-.1-4.9l1.5-4.9l4.6-6.1l4.6-3.6l5.2-3.2l7.3-3.4l7.4-2.5l16.1-3.8l20.6-2.1l11.8-.2l11.7 .7l0-.7l-20.6-.6l-20.5 1.7l-10.3 1.9l-8.8 2.3l-7.6 2.5l-7.1 3.2l-5.3 2.9l-5 3.7l-3.5 3.7l-2.3 3.6l-1.2 3.7l-.2 4.9l.9 6.1l1.6 4.9zM481.1 697.6l10.3 .7l29.4-.4l0-.5l-11.7-.1l-20.6 .5l-16.2-2.2l-5-1.7l-9.5-6.1l-9-4.3l-12.6-3l3.8 1.6l8.8 2.3l19.1 10.8l4.4 1.1l8.8 1.3z"/>
<path fill="#00ff80" stroke="#00ff80" stroke-width="0.6" d="M432.7 899.4l.4 1l1.5 0l-2.2-6.1l-1-6.1l.3-4.9l1.2-3.7l2.5-3.6l3.7-3.7l9.7-6.1l13.3-5.1l17.6-3.9l17.6-1.7l11.8-.1l11.7 .6l0-.6l-20.6-.6l-11.7 .7l-10.3 1.3l-17.6 4l-13.2 5.2l-5.9 3.3l-4 3l-3.7 3.7l-2.3 3.6l-1.3 3.7l-.2 4.9l.7 4.9l1.9 6.1zM487 697.7l33.8-.3l0-.4l-30.8 .4l-13.3-1.6l-7.3-1.9l-10.3-6.6l-10.3-4.6l-11.3-2.2l11.3 3l9 4.3l7.3 4.9l4.3 2.1l16.3 2.8z"/>
<path fill="#00ff8a" stroke="#00ff8a" stroke-width="0.6" d="M434.1 899.4l.5 1l1.4 0l-1.8-4.9l-1.3-6.1l-.1-4.9l1-3.6l2.1-3.7l3.3-3.7l4.8-3.6l4.8-2.8l7.4-3.3l7.3-2.4l16.2-3.6l17.6-1.7l11.8-.2l11.7 .7l0-.6l-20.6-.6l-20.5 1.8l-17.6 3.9l-13.3 5.1l-5.8 3.3l-4.4 3.2l-3.2 3.3l-2.7 4.2l-1.2 4.3l-.1 3.7l1 6.1l1.6 4.9zM481.1 696.6l10.3 .8l29.4-.4l0-.5l-11.7-.1l-19.1 .5l-10.3-1.2l-10.3-2.9l-9.4-6.2l-11.2-4.6l-10-1.5l10 2.2l10.3 4.6l10.3 6.6l10.6 2.5z"/>
<path fill="#00ff94" stroke="#00ff94" stroke-width="0.6" d="M435.6 899.5l.4 .9l1.5 0l-1.9-4.9l-1.3-6.1l-.1-4.9l1-3.6l2.1-3.7l3.4-3.7l5-3.6l4.6-2.7l7.3-3.2l7.4-2.4l16.1-3.4l17.7-1.6l11.7 0l10.3 .6l0-.6l-19.1-.7l-19.1 1.5l-17.6 3.5l-14.7 5.4l-6.3 3.6l-4.8 3.6l-3.3 3.7l-2.1 3.7l-1 3.6l.1 4.9l.9 4.9l1.7 4.9zM484.1 696.5l7.3 .4l29.4-.4l0-.5l-29.4 .5l-10.3-1l-9.1-2.8l-11.4-6.9l-11.8-4.5l-3.6-.8l-4.4 0l7.1 1.2l11.2 4.5l11.8 7.2l12.3 3z"/>
<path fill="#00ff9e" stroke="#00ff9e" stroke-width="0.6" d="M437.1 899.5l.4 .9l1.4 0l-1.9-4.9l-1.3-6.1l-.1-4.9l1-3.6l2.2-3.7l3.5-3.7l9.4-6.1l13.3-5.1l16.1-3.5l17.7-1.6l11.7-.1l10.3 .7l0-.6l-19.1-.7l-19.1 1.5l-17.6 3.6l-7.4 2.4l-7.3 3.2l-4.6 2.7l-5 3.6l-3.4 3.7l-2.1 3.7l-1 3.6l.1 4.9l.9 4.9l1.7 4.9zM488.5 696.4l32.3-.4l0-.5l-29.4 .5l-8.8-.8l-8.1-2.5l-13.9-7.8l-5.9-1.7l-5.9-2.5l-3.6-.2l3.6 .8l5.9 2.6l4.9 1.5l12.7 7.5l8.8 2.6l7.2 .9z"/>
<path fill="#00ffa8" stroke="#00ffa8" stroke-width="0.6" d="M438.6 899.6l.3 .8l1.5 0l-2-4.9l-1.3-6.1l-.1-4.9l1-3.6l2.2-3.7l2.8-2.9l8.8-6l13.2-5.3l16.1-3.6l17.7-1.7l11.7 0l10.3 .7l0-.6l-19.1-.7l-19.1 1.5l-17.6 3.7l-13.3 5.1l-9.4 6.1l-3.5 3.7l-2.2 3.7l-1 3.6l.1 4.9l.9 4.9l1.8 4.9zM482.6 695.2l8.8 .8l29.4-.5l0-.4l-11.7-.1l-19.1 .5l-7.4-.8l-5.9-2l-16.1-8.7l-5.9-1.4l-4.6-2.1l-1.8 0l6.4 2.7l5.9 1.7l13.9 7.8l7.7 2.5z"/>
<path fill="#00ffb3" stroke="#00ffb3" stroke-width="0.6" d="M440 899.7l.4 .7l1.4 0l-2-4.9l-1.4-6.1l-.1-4.9l1.1-3.6l2.1-3.5l2.5-2.7l4.7-3.6l4.2-2.5l13.6-5.3l16.1-3.5l16.2-1.5l11.7 0l10.3 .7l0-.6l-19.1-.8l-17.6 1.4l-17.4 3.5l-13.5 5l-9.4 6l-3.6 3.7l-2.2 3.7l-1 3.6l.1 4.9l.9 4.9l1.8 4.9zM485.6 695.2l35.2-.1l0-.5l-17.6-.1l-11.8 .5l-7.3-.5l-5.5-1.8l-7.9-4.9l-8.2-3.6l-7.8-2.3l-3.1-1.4l-1.5 0l4.6 2.1l6.2 1.6l15.8 8.5l8.6 2.5z"/>
<path fill="#00ffbd" stroke="#00ffbd" stroke-width="0.6" d="M441.5 899.7l.3 .7l1.5 0l-2.1-4.9l-1.4-6.1l-.1-4.9l1.1-3.6l2.2-3.5l2.5-2.7l4.8-3.6l4.3-2.5l13.3-5l16.2-3.4l16.1-1.4l20.6 .8l0-.6l-19.1-.8l-17.6 1.4l-17.6 3.7l-13.3 5.1l-4.5 2.7l-4.7 3.6l-3.2 3.7l-1.9 3.7l-.6 3.6l.3 4.9l2.6 8.6zM482.6 694.1l8.8 .9l11.8-.5l17.6 .1l0-.5l-1.5 0l-27.9 .4l-7.3-.5l-6-2.5l-7.2-5.1l-10.3-3.7l-9-2.2l3.1 1.4l5.9 1.5l7.7 3.2l8 4.9l5.6 2.4z"/>
<path fill="#00ffc7" stroke="#00ffc7" stroke-width="0.6" d="M443 899.7l.3 .7l1.5 0l-2.2-4.9l-1.2-4.9l-.4-4.9l.7-3.6l2-3.7l3.3-3.7l4.8-3.5l4.4-2.4l13.2-5l14.7-3l16.1-1.4l20.6 .8l0-.6l-17.6-.8l-18.3 1.3l-17 3.5l-13.3 5l-4.3 2.5l-4.8 3.6l-3.3 3.7l-1.9 3.7l-.7 3.6l.4 4.9l2.7 8.6zM484.1 694l7.3 .5l29.4-.4l0-.5l-17.6-.1l-11.8 .5l-7.3-.6l-4.5-1.9l-7.9-6.1l-18.8-4.9l18 5.9l7.2 5.1l5.9 2.4z"/>
<path fill="#00ffd1" stroke="#00ffd1" stroke-width="0.6" d="M444.4 899.7l.4 .7l1.6 0l-2.2-4.9l-1.3-4.9l-.4-4.9l.7-3.6l2-3.7l2.1-2.4l4.5-3.6l4.2-2.5l12.1-4.9l16-3.5l16.1-1.5l10.3 .1l10.3 .7l0-.6l-17.6-.8l-17.6 1.2l-15.9 3.2l-13.5 5l-4.4 2.4l-4.8 3.5l-3.3 3.7l-2 3.7l-.7 3.6l.4 4.9l2.7 8.6zM488.5 694l32.3-.4l0-.5l-17.6-.1l-11.8 .5l-5.8-.4l-4.5-1.6l-6.9-6.1l-1.9-1.1l-18.1-3.8l17.5 4.9l9.4 6.9l3 1.1l4.2 .5z"/>
<path fill="#00ffdb" stroke="#00ffdb" stroke-width="0.6" d="M445.9 899.5l.5 .9l1.6 0l-2.3-4.9l-1.3-4.9l-.4-4.9l.7-3.6l2.1-3.7l2.2-2.4l4.2-3.4l4.7-2.7l12.8-4.9l14.9-3.1l14.6-1.2l10.3 0l10.3 .8l0-.7l-17.6-.8l-18 1.3l-15.8 3.3l-13.2 5.1l-4.4 2.7l-4.5 3.6l-2.1 2.4l-2 3.7l-.7 3.6l.4 4.9l2.8 8.6zM484.1 692.8l7.3 .7l11.8-.5l17.6 .1l0-.5l-1.5 0l-27.9 .4l-5.8-.4l-4.5-2l-5.8-5.9l-3-1.6l-16.7-2.6l16.7 3.8l3 2l4.1 4l4.3 2.4z"/>
<path fill="#00ffe5" stroke="#00ffe5" stroke-width="0.6" d="M447.4 899.3l.6 1.1l1.6 0l-2.4-4.9l-1.3-4.9l-.4-4.9l.8-3.6l2.1-3.7l2.2-2.4l4.1-3.2l4.4-2.6l11.8-4.5l14.7-3.1l14.6-1.3l10.3 0l10.3 .8l0-.6l-17.6-.9l-16.2 1.1l-16.1 3.2l-13 5l-4.7 2.7l-4.2 3.4l-2.2 2.4l-2.1 3.7l-.7 3.6l.4 4.9l2.9 8.6zM487 692.8l33.8-.2l0-.5l-16.2-.2l-13.2 .5l-5.8-.4l-3.7-1.7l-4.2-4.9l-3.9-2.8l-16.7-2.1l16.7 3.2l7.3 6.9l3 1.6l2.3 .5z"/>
<path fill="#00fff0" stroke="#00fff0" stroke-width="0.6" d="M450.3 900.4l.9 0l-2.4-4.9l-1.4-4.9l-.4-4.9l.4-2.4l1.4-3.3l2.2-2.8l3.7-3.2l4.7-2.9l11.5-4.6l14.7-3.3l14.6-1.3l10.3 0l10.3 .8l0-.6l-17.6-.9l-17.6 1.4l-16.2 3.5l-11.8 4.9l-4.4 2.8l-3.8 3.4l-2 2.7l-1.5 3.4l-.4 3.7l.7 4.8l1.5 4.9l1.9 3.7zM484.1 691.6l7.3 .8l13.2-.5l16.2 .2l0-.5l-1.5 0l-27.9 .2l-5.8-.4l-2.5-1.1l-4.9-5.9l-4.2-2.7l-15.3-1.2l15.1 2.1l3.9 2.8l4.2 4.9l1.9 1.2z"/>
<path fill="#00fffa" stroke="#00fffa" stroke-width="0.6" d="M451.8 900.4l1 0l-2.5-4.9l-1.4-4.9l-.4-4.9l.4-2.4l1.7-3.7l2-2.4l3.6-3l4.4-2.7l11.7-4.7l14.7-3.1l14.7-1.2l19.1 .9l0-.7l-17.6-.9l-16.2 1.2l-15.2 3.2l-12.4 4.9l-4.7 2.9l-3.7 3.2l-2.2 2.8l-1.4 3.3l-.4 3.7l.7 4.8l1.6 4.9l1.9 3.7zM487 691.6l33.8 0l0-.5l-16.2-.3l-13.2 .4l-5.8-.5l-2.5-1.6l-3.4-4.9l-4.4-2.8l-2.8-.9l-11.5 0l13 1.2l4.2 2.7l4.9 5.9l3 1.2z"/>
<path fill="#00faff" stroke="#00faff" stroke-width="0.6" d="M453.2 900.4l1.2 0l-2.5-4.9l-1.2-3.7l-.7-4.8l.4-3.7l1.4-3l2.5-3.1l6.6-4.9l11.4-4.7l13.3-3l14.6-1.4l10.3 0l10.3 .9l0-.7l-17.6-.9l-16.2 1.2l-14.7 3.1l-11.7 4.7l-4.4 2.7l-3.6 3l-2 2.4l-1.7 3.7l-.4 3.7l.7 4.8l1.6 4.9l2 3.7zM485.6 690.7l5.8 .5l13.2-.4l16.2 .3l0-.5l-1.5 0l-32.3-.3l-2.7-1.2l-2.1-3.7l-2.4-2.5l-4.5-2.4l-2.8 0l3.5 1.2l3.7 2.5l4.7 6.1z"/>
<path fill="#00f0ff" stroke="#00f0ff" stroke-width="0.6" d="M454.7 900.4l1.5 0l-2-3.7l-1.8-4.9l-.7-4.8l.4-3.7l1.8-3.7l2.1-2.4l7-4.9l10.8-4.3l14-3l13.9-1.2l10.3 .2l8.8 .8l0-.7l-16.2-1l-16.1 1.1l-15.6 3.2l-12 4.9l-6.6 4.9l-2.5 3.1l-1.4 3l-.4 3.7l.7 4.8l1.2 3.7l2.5 4.9zM488.5 690.4l32.3 .2l0-.5l-16.2-.4l-13.2 .3l-4.4-.6l-2.2-1.6l-2-3.6l-1.4-1.3l-4.3-2.4l-1.8 0l5.8 3.6l3.2 5l2.8 1.2z"/>
<path fill="#00e5ff" stroke="#00e5ff" stroke-width="0.6" d="M456.2 900.3l1.9 .1l-2.2-3.7l-1.8-4.9l-.7-4.8l.3-3.7l3-4.9l6.8-5.2l11-4.6l14-3l13.2-1.1l10.3 .2l8.8 .8l0-.7l-16.2-1l-16.1 1.1l-13.2 2.7l-12.3 4.7l-7 4.9l-2.1 2.4l-1.8 3.7l-.4 2.4l.4 4.9l1.5 4.9l1.9 3.7zM487 689.4l4.4 .6l13.2-.3l16.2 .4l0-.5l-17.6-.5l-10.3 .2l-4.4-.5l-2.1-1l-3.4-4.9l-4.1-2.4l-1.8 0l5.5 3.5l2.2 3.8l1.3 1.3z"/>
<path fill="#00dbff" stroke="#00dbff" stroke-width="0.6" d="M457.6 899.8l.5 .6l1.8 0l-2.3-3.7l-1.8-4.9l-.8-4.8l.4-3.7l3-4.9l6.6-4.9l10.3-4.2l13.2-3l13.2-1.1l10.3 .2l8.8 .8l0-.7l-14.7-1l-16.1 .9l-13.3 2.6l-11.7 4.4l-7.1 4.8l-2.3 2.4l-1.9 3.7l-.4 2.4l.5 4.9l1.5 4.9l2 3.7zM490 689.1l30.8 .5l0-.5l-30.8-.8l-3-1.4l-2.7-4l-1.6-1.2l-2.2-1.2l-1.6 0l4.1 2.4l3.4 4.9l3.2 1.3z"/>
<path fill="#00d1ff" stroke="#00d1ff" stroke-width="0.6" d="M459.1 899.2l.8 1.2l1.9 0l-2.4-3.7l-1.9-4.9l-.8-4.8l.4-3.7l3.1-4.9l6.9-4.9l9.6-3.8l13.3-2.8l16.1-1l14.7 1.1l0-.8l-14.7-1l-16.1 .9l-13.3 2.7l-6.6 2.3l-5.1 2.4l-6.6 4.9l-1.9 2.5l-1.4 3.6l.7 7.3l3.3 7.4zM520.8 689.1l0-.5l-17.6-.8l-11.8 0l-3.2-1.2l-4.3-4.9l-2-1.2l-1.4 0l3.8 2.4l2.7 4l3 1.4l29.4 .8z"/>
<path fill="#00c7ff" stroke="#00c7ff" stroke-width="0.6" d="M462.1 900.4l1.5 0l-4-7.3l-1.2-4.9l.1-3.7l.8-2.4l1.6-2.5l6-4.9l9.8-4.2l13.3-2.9l13.2-1l8.8 .2l8.8 .9l0-.7l-14.7-1.1l-14.7 .8l-13.2 2.5l-5.9 2l-5.8 2.7l-6.3 4.5l-1.9 2.5l-1.5 3.6l0 3.7l1 4.9l4 7.3zM491.4 687.8l11.8 0l17.6 .8l0-.5l-17.6-1l-11.8 0l-2.9-1.4l-4.4-4.6l-2.2-.6l3.5 2.4l2.8 3.7l3.2 1.2z"/>
<path fill="#00bdff" stroke="#00bdff" stroke-width="0.6" d="M463.5 900.3l2.1 .1l-3.3-4.9l-1.4-3.7l-.7-3.6l0-3.7l.8-2.4l1.7-2.5l2.6-2.4l3.7-2.5l9.2-3.7l11.8-2.6l13.2-1.1l8.8 .2l8.8 1l0-.8l-14.7-1.1l-14.7 .8l-12.4 2.5l-11.1 4.3l-4.4 2.9l-2.6 2.5l-1.6 2.5l-.8 2.4l-.1 3.7l.8 3.6l3.5 7.4zM513.5 687.9l7.3 .2l0-.6l-19.1-1.2l-10.3 0l-2.9-1.6l-4.3-4.2l-1.1 0l2.5 1.8l2.9 3.4l2.9 1.4l11.8 0l10 .7z"/>
<path fill="#00b2ff" stroke="#00b2ff" stroke-width="0.6" d="M465 899.7l.6 .7l2.1 0l-2.7-3.7l-1.8-3.6l-1.2-4.9l0-3.7l.9-2.4l1.8-2.5l6.2-4.6l8.8-3.5l11.7-2.6l14.7-.9l14.7 1.3l0-.8l-13.2-1.2l-14.7 .7l-14.7 3l-9.2 3.7l-3.7 2.5l-2.6 2.4l-1.7 2.5l-.8 2.4l0 3.7l.7 3.6l1.4 3.7l2.3 3.7zM494.4 686.6l7.3-.3l19.1 1.2l0-.5l-19.1-1.5l-7.3 .4l-3-.3l-2.9-1.8l-3.5-3.3l-.8 0l5.8 5.2l4.1 .9z"/>
<path fill="#00a8ff" stroke="#00a8ff" stroke-width="0.6" d="M467.9 900.4l2 0l-2.9-3.7l-1.9-3.6l-1.2-4.9l0-3.7l.9-2.4l1.9-2.5l4.8-3.6l9.6-4l11.8-2.4l14.7-.8l13.2 1.3l0-.8l-13.2-1.2l-14.7 .7l-13.2 2.7l-5.7 2l-4.6 2.4l-3.5 2.5l-2.2 2.5l-1.3 2.4l-.5 2.4l.3 3.7l1 3.7l1.8 3.6l2.7 3.7zM513.5 686.7l7.3 .3l0-.5l-19.1-1.7l-8.8 .3l-2.9-1l-4.2-3.6l-.8 0l3.5 3.3l2.9 1.8l3 .3l7.3-.4l10.3 1.1z"/>
<path fill="#009eff" stroke="#009eff" stroke-width="0.6" d="M469.4 899.9l.5 .5l2.2 0l-3-3.7l-2-3.6l-1.3-4.9l0-3.7l1-2.4l1.9-2.5l5.1-3.6l9.5-3.7l11.1-2.1l13.2-.6l13.2 1.4l0-.9l-13.2-1.3l-13.2 .6l-13.3 2.6l-9.6 4l-3.5 2.4l-2.4 2.5l-1.3 2.4l-.5 2.4l.3 3.7l1 3.7l3.7 6.1zM507.6 685.5l13.2 1l0-.6l-7.3-.3l-11.8-1.6l-8.8 .4l-2.9-1l-3.5-2.9l-.7 0l2.7 2.5l2.9 1.8l3 .4l7.3-.4l4.8 .6z"/>
<path fill="#0094ff" stroke="#0094ff" stroke-width="0.6" d="M472.3 900.4l2 0l-3.2-3.7l-2.1-3.6l-1.2-3.7l-.3-3.7l.6-2.4l1.5-2.4l4.4-3.7l8.6-3.7l11.3-2.4l13.7-.7l13.2 1.4l0-.8l-13.2-1.4l-13.2 .6l-11.8 2.3l-5.9 2.1l-4.4 2.3l-4.7 4l-1.4 2.4l-.6 2.4l.4 3.7l1.1 3.7l2 3.6l3 3.7zM512 685.4l8.8 .5l0-.5l-7.3-.4l-11.8-1.8l-8.8 .5l-2.9-1l-2.8-2.2l-.7 0l3.5 2.9l2.9 1l8.8-.4l9.9 1.4z"/>
<path fill="#008aff" stroke="#008aff" stroke-width="0.6" d="M473.8 899.9l.5 .5l2.4 0l-3.5-3.7l-2.2-3.6l-1.3-3.7l-.3-3.7l.6-2.4l1.6-2.4l4.7-3.7l9.3-3.6l10.2-1.9l13.3-.4l11.7 1.4l0-.9l-13.2-1.4l-13.2 .6l-11.8 2.5l-8.6 3.7l-4.4 3.7l-1.5 2.4l-.6 2.4l.3 3.7l1.2 3.7l4.1 6.1zM507.6 684.2l13.2 1.2l0-.6l-7.3-.4l-11.8-1.9l-8.8 .6l-5.7-2.6l2.8 2.2l2.9 1l7.3-.5l7.2 1z"/>
<path fill="#0080ff" stroke="#0080ff" stroke-width="0.6" d="M476.7 900.4l2.4 0l-3.8-3.7l-2.3-3.6l-1.4-3.7l-.3-3.7l1.3-3.6l4-3.7l7.5-3.4l10.3-2.3l13.2-.7l13.2 1.6l0-.9l-11.7-1.4l-13.3 .4l-11.7 2.3l-8.8 3.8l-4.7 4.3l-1 2.4l-.2 2.5l.7 3.6l1.5 3.7l5.1 6.1zM512 684.2l8.8 .6l0-.6l-7.3-.4l-11.8-2.1l-8.8 .7l-5-1.9l2.1 1.5l2.9 1.1l8.8-.6l9.9 1.7z"/>
<path fill="#0075ff" stroke="#0075ff" stroke-width="0.6" d="M478.2 899.7l.9 .7l2.5 0l-4.1-3.7l-2.2-3.1l-1.8-4.2l-.4-3.7l1.4-3.6l4.3-3.7l8.2-3.4l8.8-1.7l13.3-.5l11.7 1.7l0-.9l-11.7-1.6l-11.8 .3l-11.7 2.2l-8.9 3.8l-4.1 3.8l-1.2 2.4l-.1 2.5l1.7 6.1l4.6 6.1zM520.8 684.2l0-.6l-7.3-.4l-10.3-2l-10.3 .6l-4.2-1.3l4.2 1.9l8.8-.7l11.8 2.1l6.8 .4z"/>
<path fill="#006bff" stroke="#006bff" stroke-width="0.6" d="M481.1 900.1l3.1 .3l-3.2-2.4l-3.3-3.7l-1.8-3.7l-.8-3.6l.7-3.7l3.4-3.7l7.8-3.6l10.3-2l11.8-.4l11.7 1.8l0-.9l-11.7-1.7l-11.8 .3l-10.3 1.9l-8.2 3.4l-4.3 3.7l-1.2 2.4l-.1 2.5l1.7 6.1l2.6 3.6l2.5 2.5zM512 682.9l8.8 .7l0-.7l-7.3-.4l-10-2l-9.1 .6l-4.9-.6l3.4 1.3l8.8-.8l10.3 1.9z"/>
<path fill="#0061ff" stroke="#0061ff" stroke-width="0.6" d="M482.6 899.3l1.6 1.1l3.2 0l-6.3-4.9l-1.9-2.4l-1.6-3.7l-.2-4.9l1.4-2.4l2.9-2.5l6.8-2.9l9.7-2l12.3-.1l10.3 1.8l0-1l-10.3-1.7l-10.3 0l-10.2 1.5l-8.9 3.2l-4.6 3.7l-1.3 2.4l-.1 2.5l1.9 6.1l2.7 3.6l2.8 2.5zM520.8 682.9l0-.6l-7.3-.4l-6.3-1.4l-3.7 0l10 2l7.2 .4zM491.4 680.8l3 .3l4.3-.6l-8 0z"/>
<path fill="#0057ff" stroke="#0057ff" stroke-width="0.6" d="M485.6 899.3l1.8 1.1l3.6 0l-4-2.1l-3.4-2.8l-2-2.4l-1.8-3.7l-.3-4.9l1.6-2.4l3-2.3l7.3-2.9l8.8-1.4l10.3 0l10.3 2l0-1.1l-10.3-1.8l-10.3 0l-10.2 1.6l-8.3 3.4l-3.8 3.7l-.8 2.4l.2 2.5l1.3 3.6l1.5 2.5l5.3 4.9zM519.3 900.4l1.5 0l0-.9l-1.8 .9zM513.5 681.9l7.3 .4l0-.7l-13.6-1.1l5.5 1.2z"/>
<path fill="#004cff" stroke="#004cff" stroke-width="0.6" d="M490 899.9l1 .5l4.5 0l-4.1-1.5l-3.6-2.2l-4.7-4.9l-1.1-2.4l-.6-3.7l.9-2.4l2.6-2.4l6.5-2.9l8.8-1.6l10.3 0l10.3 2.3l0-1.2l-10.3-2l-10.3 0l-10.2 1.8l-7.4 3.4l-1.5 1.4l-1.6 2.4l.3 4.9l2.8 5.1l5.9 4.7zM514.9 900.4l4.4-.2l1.5-.7l0-1.8l-6.3 2.7zM510.5 680.5l4.4 .8l5.9 .3l0-.7l-10.4-.4z"/>
<path fill="#0042ff" stroke="#0042ff" stroke-width="0.6" d="M492.9 899.5l2.6 .9l19 0l6.3-2.7l0-2l-5.9 3l-7.3 1.5l-7.4-.2l-5.8-1.6l-5.9-3.3l-3.8-4.5l-1.2-4.9l1-2.4l1.2-1.2l5.7-3l8.8-1.8l11.8 .2l8.8 2.5l0-1.3l-8.8-2.1l-10.3-.3l-10.3 1.7l-6.5 2.9l-3.2 3.6l-.3 2.5l.6 2.4l1.1 2.4l2.5 3.1l2.9 2.3l3.6 2zM514.9 680.6l5.9 .3l0-.4l-7.1 0z"/>
<path fill="#0038ff" stroke="#0038ff" stroke-width="0.6" d="M497.3 899.4l7.3 .9l7.4-.8l4.8-1.5l4-2.3l0-2.3l-5.1 3.3l-6.6 1.9l-7.4 .1l-5.9-1.4l-5.6-3l-3.2-3.7l-1.1-2.4l-.2-2.5l1.1-2.4l1.3-1.2l5.1-2.5l8.5-1.5l10.3 .4l4.8 1.1l4 1.8l0-1.4l-8.8-2.5l-10.3-.3l-8.8 1.4l-4.4 1.7l-2.8 1.8l-1.2 1.2l-1 2.4l.6 3.7l1.3 2.4l4.6 4.4l6.7 3z"/>
<path fill="#002eff" stroke="#002eff" stroke-width="0.6" d="M498.8 898.2l7.3 .7l7.4-1.3l4.4-2l2.9-2.2l0-2.9l-3.9 3.8l-4.9 2.2l-5.9 .9l-7.3-.7l-5.7-2.4l-3.8-3.7l-1.2-2.4l-.3-2.5l.4-1.2l1.8-1.9l5.8-2.7l7.4-1l10.3 .9l4.4 1.5l2.9 1.9l0-1.8l-7.3-2.6l-8.9-.9l-10.2 1.4l-6.3 2.8l-1.3 1.2l-1.1 2.4l.2 2.5l1.1 2.4l1.8 2.5l2.6 2.1l6.4 2.8z"/>
<path fill="#0024ff" stroke="#0024ff" stroke-width="0.6" d="M500.2 897l4.4 .5l4.5-.4l4.4-1.1l3.4-1.7l3.9-3.8l0-7.3l-2.9-1.9l-3-1.1l-8.8-1.4l-8.8 .8l-6.7 2.5l-1.5 1.2l-1.3 2.4l.3 2.5l1.2 2.4l3.8 3.7l5.9 2.4zM500.2 895.5l-5.8-2.4l-3.6-3.7l-.8-3.7l1.4-2.4l1.8-1.2l5.6-1.8l8.8-.4l7.3 1.4l3 1.5l1.7 1.7l.4 2.5l-.8 2.4l-2 2.4l-2.3 1.7l-2.9 1.4l-4.4 1l-7.4-.4z"/>
<path fill="#001aff" stroke="#001aff" stroke-width="0.6" d="M500.2 895.5l7.4 .4l4.4-1l2.9-1.4l2.3-1.7l2-2.4l.8-2.4l-.4-2.5l-1.7-1.7l-3-1.5l-7.3-1.4l-8.8 .4l-5.6 1.8l-1.8 1.2l-1.4 2.4l.8 3.7l3.6 3.7l5.8 2.4zM501.4 893.1l-4.1-1.7l-3-3.2l-.5-2.5l.6-1.2l1.5-1.2l4.3-1.5l5.9-.4l5.9 1l3.6 2.1l.6 1.2l-.5 2.5l-1.9 2.4l-1.8 1.2l-4.4 1.5l-5.9-.2z"/>
<path fill="#000fff" stroke="#000fff" stroke-width="0.6" d="M501.7 893.1l5.9 .2l4.4-1.5l1.8-1.2l1.9-2.4l.5-2.5l-.6-1.2l-3.6-2.1l-5.9-1l-5.9 .4l-4.3 1.5l-1.5 1.2l-.6 1.2l.5 2.5l3 3.2l4.1 1.7zM502.8 889.4l-2.3-1.2l-.9-1.2l-.2-1.3l1.3-1.2l5.4-.8l3.2 .8l1.3 1.2l-1.1 2.5l-1.9 1.1l-4.4 .2z"/>
<path fill="#0005ff" stroke="#0005ff" stroke-width="0.6" d="M503.2 889.5l4.4-.2l1.9-1.1l1.1-2.5l-1.3-1.2l-3.2-.8l-5.4 .8l-1.3 1.2l.2 1.3l.9 1.2l2.3 1.2z"/>
<path shape-rendering="crispEdges" fill="none" stroke="#000" stroke-width="1" d="M404.8 769.7l-5.9-1.1l-3.3-1.4l-2.9-2.4l-1.9-3.7l-.3-4.9l1-3.6l2.7-3.7l4.2-2.4l7.8-2.5l11.8-2.5l10.3-3.3l22-2.2l8.8-.1l5.9-2.9l4.5-1.2l4.3-.2l5.9 .7l2.9 .9l1.7 1.1l.8 1.2l-1 2.4l-3 2.5l-14.6 7l-22.1 14.4l-17.6 6.1l-16.2 1.9l-4.4 0M520.8 727.7l-2.2 1.7l-3.7 1.4l-8.8 1.6l-17.6 10.4l-20.6 10.3l-21 12.9l-15.7 7l-8.8 2.8l-8.8 1.8l-7.4 .8l-7.3-.1l-5.9-1l-4.4-1.6l-5.4-3.6l-3.1-3.6l-2.2-4.9l-.5-3.7l.6-3.7l1.5-3.6l2.7-3.7l3.8-3.7l3.8-2.4l7.6-2.9l31.5-6.9l18.5-2.5l17.6-3.2l8.8-.1l25 2.1l5.8-.9l7.1-3.9l4.7-1.7l2.7 .5l1.7 1.7M520.8 732.9l-14.7 5.4l-30.8 15l-26.5 15.9l-16.1 8.3l-8.8 3.6l-10.3 2.8l-10.3 1.3l-7.3 .1l-7.4-1l-4.4-1.4l-5.9-3.4l-4.4-3.8l-3.6-4.8l-2.4-6.1l-.4-3.7l.8-4.9l1.6-3.6l2.5-3.7l3.5-3.7l4.8-3.6l5-2.8l5.9-2.2l38.1-7.2l30.9-4.8l7.3-.4l20.6 1.4l7.3 0l7.4-1.1l11.7-3.7l3-.2l2.9 .9M520.8 736.2l-10.3 3.6l-32.3 15.4l-48.5 28.8l-8.8 3.7l-10.3 2.6l-8.8 1l-8.8 .1l-7.3-.8l-5.9-1.9l-7.5-4.4l-7-6.1l-4.3-6.1l-2.2-6.1l-.4-4.9l.9-4.9l2.4-4.8l2.7-3.7l5.1-4.9l5.2-3.7l5.1-2.8l7.4-2.8l7.3-1.6l17.6-2.1l17.6-3.2l30.9-4.5l7.3-.1l25 1.5l8.8-.9l13.2-3.3l3-.1l2.9 .6M520.8 739l-8.8 3.1l-20.6 9.4l-13.2 6.8l-49.9 32.3l-8.8 3.5l-8.9 2l-11.7 1.1l-10.3-.3l-7.3-1.2l-7.5-2.8l-8.7-5l-7.3-6.3l-5-7l-1.6-3.7l-1.1-4.9l-.1-6.1l1.3-4.9l2.5-4.9l4-4.8l5.6-4.9l6.1-4l7.4-3.6l7.3-2.6l8.8-1.7l19.1-1.4l19.1-3.2l29.4-3.7l5.9-.1l26.4 1.6l7.3-.6l14.7-3l5.9 .4M520.8 741.5l-5.9 1.9l-19.1 8.6l-17.3 9.1l-28.8 19.6l-14.1 11.9l-4.4 3.1l-8.8 3.7l-10.3 2.1l-13.2 1.1l-11.7-.4l-10.3-1.8l-10.3-3.9l-10.3-6l-6.6-6.2l-5.5-8.5l-2.5-8.6l-.1-6.1l1.3-6.1l3-6.1l4-4.9l5.7-4.9l6.6-4.2l8.8-4.3l8.8-3.1l10.3-2l20.5-.7l20.6-3l29.4-3.3l30.8 1.8l7.4-.5l16.1-2.8l5.9 .4M520.8 743.9l-5.9 2l-19.1 8.5l-10.2 5.4l-8.2 5l-27.1 20.5l-3.6 3.9l-6.3 8.6l-4.8 3.6l-7.3 2.9l-10.3 2.1l-17.6 1.4l-16.2-.6l-11.8-2.1l-13.2-4.5l-5.8-3.1l-4.4-3l-7.8-7.7l-5.1-8.6l-1.7-4.9l-1-4.8l-.1-7.4l1.6-7.3l2.9-6.1l4.9-6.1l6-4.9l7.6-4.4l8.8-3.9l11.8-4l7.3-1.6l5.9-.6l22 .2l19.1-2.6l27.9-2.7l7.4 0l24.9 1.8l7.4-.4l16.1-2.5l5.9 .4M520.8 746.1l-17.6 7.1l-11.3 5.5l-11.9 7.3l-9.3 7.3l-14.6 13.5l-3 3.6l-.6 3.7l1.9 7.3l-.7 2.5l-1.2 1.2l-6 2.5l-18.2 3.4l-26.5 1.8l-17.6-.4l-16.1-2.3l-14.7-4.3l-10.6-5.6l-4.6-3.6l-3.9-4.2l-3.2-4.4l-3.2-6.1l-1.7-4.9l-1.3-6.1l-.3-8.5l1.5-8.6l3-7.3l5.2-7.3l6-4.9l7.2-4l8.8-3.6l14.6-4.7l7.4-1.8l7.4-1l24.9 1.1l20.6-2.4l16.2-.9l11.7-1.3l32.3 2l7.4-.4l16.1-2.2l5.9 .4M520.8 748.3l-19.1 7.6l-13.2 7.2l-12 9l-9 9.8l-3.6 6.1l-.5 3.7l.5 2.4l3 4.9l8.3 8.6l2.2 3.6l.2 1.2l-.9 1.7l-1.4 .9l-3 .7l-27.9 0l-47 2.2l-23.5-1l-22-3.6l-7.3-2.2l-5.9-2.6l-5.6-3.4l-4.7-3.9l-4.8-5.9l-4.1-7.3l-2.1-4.9l-1.3-6.1l-.6-9.8l.9-11l2-8.5l3.4-7.3l3.7-5.1l5.8-4.9l7.4-3.7l8.8-2.9l23.5-5.9l13.2-2l7.4 .2l19 2.1l20.6-2l16.2-.6l11.7-1.1l32.3 2.1l7.4-.4l16.1-1.9l5.9 .3M520.8 750.3l-17.6 7l-13.3 7.5l-10.5 8.5l-4.3 4.9l-2.9 4.9l-1.2 3.7l-.1 2.4l.4 2.5l1.8 3.6l6.6 7.1l13 10l2.3 2.5l.1 2.4l-1 1.2l-2.1 1.3l-4.3 1.2l-11 1l-33.7-1.5l-32.4 1.4l-10.2 1l-10.3-.6l-16.2 .3l-30.8-2.5l-7.9-1.6l-8.1-2.4l-5.2-2.4l-5.6-3.7l-3.7-3.7l-2.5-3.6l-2.3-4.8l-1.8-6.2l-.5-7.4l.3-20.7l1.2-14.7l2.1-11l2.3-6.1l2.5-3.7l4.3-3.6l7.3-3.2l8.8-2.2l45.5-6.4l10.3 .3l13.2 2.4l7.3 .8l20.6-1.7l16.2-.2l11.7-.9l32.3 2.2l23.5-2.1l5.9 .4M520.8 752.2l-16.5 6.5l-12.4 7.3l-4.7 3.7l-5 4.9l-3.5 4.9l-1.7 3.6l-.6 3.7l.5 3.6l3.6 6.2l6.7 6.1l12.7 8.5l4.1 4.9l.9 2.4l-.2 1.3l-1.5 1.7l-3 1.6l-6.2 1.6l-11.4 .9l-38.2-1.4l-33.8 2.4l-8.8 1.2l-11.7-.7l-14.7 1.4l-13.2-.7l-30.9 3.2l-10.2 3l-5.9 2.9l-2.4 2.4l-1.9 3.7l-3.1 16.1l-1.6 19.3l.4 22M306.7 680.5l3.7 12.2l4.8 8.2l7.3 5.2l7.4 2.3l7.3 1.2l29.4 0l10.3-.7l5.8 .1l27.9 5.1l20.6-1.1l16.2 .1l11.7-.7l32.3 2.2l23.5-1.8l5.9 .4M520.8 826.7l-10.3-.6l-16.1 1.8l-11.8 .5l-30.8-1.1l-11.8 .2l-14.7 1.7l-17.6 3.3l-16.1-.3l-14.7 1.8l-17.7 .9l-17.6 2.6l-7.9 1.8l-5 2.5l-2.6 2.4l-1.4 2.4l-1.5 4.9l-1.8 9.8l-1.5 13.4l-.3 12.3l.5 13.4M520.8 754l-16.2 6.5l-5.8 3.3l-6.6 4.7l-4 3.6l-4.1 4.9l-2.4 4.9l-.6 3.7l.5 3.6l1.7 3.7l3.7 4.5l4.8 4l17.3 11.4l1.4 .6l10.3 .4M321 680.5l8.9 11.1l7.3 4.7l7.4 2.8l22 4.8l11.7 .6l4.4 .7l26.5 6.6l22-.4l16.2 .5l13.2-.4l30.8 2.2l22.1-1.6l7.3 .4M520.8 830.4l-8.8-.7l-29.4 1.1l-29.4-.9l-11.7 .3l-13.2 1.5l-19.1 3.9l-16.2-.1l-27.9 3.2l-10.7 1.8l-8.8 2.5l-4.7 2.4l-2.5 2.5l-1.5 3.6l-2 7.4l-1.7 9.7l-1 9.8l-.2 11l.7 11M520.8 755.7l-14.7 6l-10.4 6.8l-4.1 3.6l-3.8 4.9l-2.1 4.9l-.4 3.7l.7 3.6l2 3.7l3.2 3.7l4.6 3.8l13.3 7.7l11.7 2.5M334.3 680.5l10.3 8.2l7.3 3.5l14.7 5.2l11.7 2.2l25 8.3l7.3 1.8l20.6 .3l16.2 .8l13.2-.2l30.8 2.2l20.6-1.3l8.8 .3M520.8 833l-11.7-.7l-28 .5l-27.9-.6l-10.2 .3l-17.7 2.2l-14.7 3l-13.2 .2l-7.3 .7l-20.6 3.4l-8.9 2.2l-5.1 2.4l-2.7 2.5l-3 6.1l-2.7 8.5l-1.7 8.6l-.7 7.3l-.2 8.6l.7 12.2M520.8 757.3l-13.2 5.5l-10.1 6.9l-3.6 3.6l-2.7 3.7l-1.5 3.7l-.6 3.6l.6 3.7l1.8 3.7l3 3.6l4.3 3.6l10.3 5.8l11.7 3.2M346.5 680.5l6.9 4.8l13.2 6.2l10.3 2.8l11.7 5.4l22 7.6l7.4 .9l29.4 1.4l13.2 .1l29.4 2.2l22-1.2l8.8 .4M520.8 834.8l-16.2-.6l-51.4 0l-10.2 .4l-16.2 2l-16.2 3l-10.2 .4l-7.4 .9l-15.1 3.3l-7.8 2.4l-4.1 2.5l-2.8 3.7l-3.4 6.1l-3.1 8.5l-1.5 7.3l-.8 8.6l.9 17.1M520.8 758.9l-11.2 4.7l-8.8 6.1l-3.7 3.6l-2.6 3.7l-1.5 3.7l-.3 3.6l.7 3.7l1.3 2.4l2.6 3.4l3 2.8l8.8 5.2l11.7 3.7M356.9 680.5l9.7 5.8l11.7 4.6l13.7 6.7l17.2 6.7l5.9 1.5l30.8 2.6l14.7 .5l22 1.8l11.8 .3l17.6-1l8.8 .5M520.8 836.3l-20.6-.6l-54.3 .6l-47 6.4l-14.4 3.9l-5.2 2.5l-5.2 4.9l-3.7 4.9l-3.5 7.3l-2.5 8.5l-.9 7.4l0 8.5l.9 9.8M520.8 760.4l-10 4.4l-6.9 4.9l-3.6 3.6l-2.6 3.7l-1.4 3.7l-.3 2.4l.6 3.7l1.1 2.4l2.5 3.5l2.9 2.6l7.4 4.5l10.3 3.5M366.2 680.5l7.7 4.5l20.6 10.4l16.1 6.8l7.4 2l29.4 3.3l13.2 .5l22 1.9l13.2 .3l16.2-.9l8.8 .5M520.8 837.7l-26.4-.7l-47 1l-14.7 1.8l-26.5 4.3l-11.9 3.8l-6.7 3.6l-5.8 4.9l-3.9 4.9l-3.4 6.1l-2.4 7.3l-1.2 7.4l0 8.5l1 9.8M520.8 761.9l-8.9 4.1l-6.3 4.9l-4.7 6.1l-1.3 3.7l-.3 2.4l.8 3.7l1.2 2.4l4.4 4.9l5.8 3.7l9.3 3.4M374.5 680.5l6.8 4.5l13.2 7.2l19.1 8.4l5.9 1.8l27.9 4l35.2 2.8l13.2 .2l14.7-.8l10.3 .5M520.8 838.9l-29.4-.7l-42.6 1.4l-14.4 2.2l-20.8 3.9l-11.8 4.2l-7.3 3.9l-5 3.8l-4.5 4.9l-4.3 7.4l-2.1 6.1l-1.2 7.3l.2 8.5l1.1 8.6M520.8 763.4l-7.3 3.5l-5 4l-4.5 6.1l-1.3 4.9l.9 4.9l1.3 2.4l2.7 3.1l5.9 4.1l7.3 2.9M381 680.5l15 9.3l10.2 4l10.3 5.6l4.4 1.3l26.5 4.6l29.3 2.7l14.7 .7l19.1-.8l10.3 .5M520.8 840.1l-30.8-.7l-38.2 1.8l-11.4 1.8l-16.6 3.6l-16.1 5.4l-7.3 3.8l-5.8 4.3l-4.5 4.9l-3.7 6.1l-2.1 6.1l-1 6.1l.1 8.5l1.3 8.6M520.8 765l-6.7 3.5l-3.9 3.6l-3.1 4.9l-1.1 4.9l.9 4.9l3.5 4.9l4.5 3.2l5.9 2.5M387.3 680.5l8.7 6.1l12.2 4.9l9.8 6.2l22 5.1l10.3 1.7l33.8 3.3l14.7 0l11.7-.6l10.3 .5M520.8 841.3l-32.3-.6l-19.1 .8l-14.7 1.3l-8.8 1.5l-11.8 2.9l-13.2 3.9l-8.8 3.3l-7.3 4l-5.4 4.1l-4.4 4.9l-2.9 4.9l-2.2 6.1l-.9 6.1l.3 8.6l1.2 7.3M520.8 766.6l-4.4 2.3l-3.6 3.2l-2.8 4.9l-.8 4.9l1 4.9l2.3 3.6l2.9 2.5l5.4 2.7M392.7 680.5l4.7 3.7l11.9 4.9l10.2 6.7l25 6.7l24.9 3.3l14.7 1.2l14.7 .1l11.7-.7l10.3 .6M520.8 842.5l-16.2-.6l-16.1 .1l-17.6 .9l-12.3 1.3l-9.8 1.8l-14.7 4l-10.2 3.2l-8 3.2l-6.7 3.7l-4.8 3.7l-4.6 4.8l-3 4.9l-1.9 4.9l-1 6.1l.4 8.6l1.3 7.3M520.8 768.4l-4.1 2.5l-2.2 2.4l-1.7 3.7l-.6 4.9l.5 3.7l1.8 3.6l2.6 2.5l3.7 1.9M397.6 680.5l5.6 3.7l8.9 3.8l9.3 5.9l18.5 6.1l7.5 1.9l22 3.2l14.7 1.1l14.7 .1l10.3-.6l11.7 .5M520.8 843.7l-29.4-.5l-26.4 2l-10.3 1.8l-10.3 2.6l-16.1 5l-8.8 3.7l-5.9 3.3l-5.8 4.6l-4.3 4.9l-2.7 4.9l-1.5 4.9l-.5 4.8l.4 7.4l1.4 7.3M520.8 770.4l-2.5 1.7l-2 2.5l-1.2 3.6l-.1 3.7l.5 3.7l1.1 2.4l1.3 1.5l2.9 2M402.5 680.5l3.5 2.4l7.9 3.7l10 5.7l16.1 6.2l8.8 2.5l20.6 3.3l14.7 1.1l14.7 .1l10.3-.6l11.7 .5M520.8 844.9l-29.4-.4l-24.5 2.1l-10.7 2.1l-10.3 2.7l-13.2 4.2l-8.8 3.7l-6 3.2l-5.8 4.4l-3.9 4.2l-3 4.9l-1.6 4.9l-.6 4.8l.5 7.4l1.5 7.3M520.8 772.9l-2.3 2.9l-1.1 4.9l.9 4.9l2.5 3.1M406.3 680.5l2.9 1.9l14.7 7.2l16.1 7.2l7.4 2.6l7.3 1.7l14.7 2.4l14.7 1.1l25-.5l11.7 .5M520.8 846.2l-27.9-.4l-23.5 2.2l-10.3 2l-10.8 2.8l-12.7 4.2l-8.8 3.8l-7.2 4.2l-4.5 3.6l-3.2 3.7l-2.9 4.9l-1.5 4.9l-.4 4.9l.7 7.3l1.5 6.1M520.8 777.4l-.8 3.3l.8 3.4M409.4 680.5l7.1 2.8l27 13.1l11.6 3.6l14.3 2.6l14.7 1.1l25-.4l11.7 .5M520.8 847.6l-26.4-.4l-23.5 2.3l-13.3 2.7l-8.8 2.4l-10.2 3.6l-8.9 3.9l-5.8 3.5l-5.4 4.3l-4 4.8l-1.9 3.7l-1.3 4.9l-.2 4.9l.5 4.9l1.9 7.3M414.4 680.5l5.1 1.7l10.2 4.9l17.8 9.3l12.9 3.6l9 1.8l14.7 1.1l25-.4l11.7 .4M520.8 848.8l-25-.4l-11.7 .8l-11.8 1.5l-20.5 4.6l-10.2 3.6l-8.4 3.6l-6.4 3.7l-4.7 3.7l-3.4 3.6l-3 4.9l-1.4 4.9l-.1 4.9l.7 6.1l1.7 6.1M421.1 680.5l16 7.9l11.9 6.8l6.2 2.4l9.9 2.4l5.8 1l16.1 1.1l22.1-.4l11.7 .3M520.8 850l-23.5-.5l-11.7 .8l-11.8 1.4l-10.3 2l-10.3 2.7l-8.8 3l-8.8 3.9l-5.1 2.9l-5.2 3.8l-3.4 3.5l-3.1 4.9l-1.5 4.9l-.2 4.9l.8 6.1l1.7 6.1M425.5 680.5l17.1 8.6l12.1 6.7l11.8 3.5l5.8 .9l16.2 1.1l32.3-.2M520.8 851.2l-22-.5l-13.2 .8l-9.9 1.3l-12.2 2.3l-8.8 2.4l-7.6 2.6l-8.4 3.7l-6.4 3.6l-4.8 3.7l-3.6 4l-2.6 4.5l-1 3.7l-.2 4.9l.8 6.1l1.8 6.1M429.6 680.5l4.5 2.6l10.6 4.7l12.7 7.4l11.6 3.6l21 1.7l30.8-.3M520.8 852.6l-22-.5l-22.1 2l-19.1 4.2l-8.8 3l-8.1 3.7l-6.2 3.6l-4.5 3.7l-3.2 3.7l-2.1 3.6l-1.1 3.7l-.2 4.9l.8 6.1l1.9 6.1M432.5 680.5l3.1 1.8l11.2 4.3l15 8.6l7.6 2.6l20.6 1.8l30.8-.3M520.8 854l-20.6-.6l-21.1 1.8l-18.5 3.9l-8.8 3l-7.4 3.2l-5.8 3.3l-4.9 3.7l-3.4 3.7l-2.2 3.6l-1.2 3.7l-.2 4.9l.9 6.1l2 6.1M435 680.5l5 2.2l8.8 2.7l14.5 8.5l6.1 2.6l19.1 2.2l32.3-.3M520.8 855.4l-20.6-.6l-11.7 .7l-10.3 1.3l-17.6 4l-7.4 2.5l-7.3 3.4l-5.2 3.2l-4.6 3.6l-3.2 3.7l-1.9 3.7l-1 3.6l.1 4.9l.9 4.9l2.1 6.1M437.5 680.5l11.3 3l9 4.3l9.5 6.1l5 1.7l16.2 2.2l32.3-.4M520.8 856.6l-20.6-.6l-19.1 1.6l-17.6 3.8l-7.3 2.4l-7.4 3.3l-4.8 2.8l-4.8 3.6l-3.3 3.7l-2.1 3.7l-1 3.6l.1 4.9l1.3 6.1l1.8 4.9M440.8 680.5l8 1.5l11.2 4.6l9.4 6.2l10.3 2.9l10.3 1.2l30.8-.4M520.8 857.8l-19.1-.7l-19.1 1.5l-17.6 3.7l-7.8 2.7l-6.9 3.1l-4.9 3l-4.5 3.6l-3 3.7l-1.8 3.7l-.6 3.6l.3 4.9l1.2 4.9l1.9 4.9M448.3 680.5l6.4 2.7l5.9 1.7l13.9 7.8l7.7 2.5l9.2 .8l29.4-.5M520.8 859l-19.1-.8l-17.6 1.4l-17.6 3.7l-13.6 5.3l-4.2 2.5l-4.7 3.6l-3.2 3.7l-1.9 3.7l-.6 3.6l.3 4.9l1.2 4.9l2 4.9M451.6 680.5l13.9 4.9l5.4 2.5l7.7 4.8l5.5 1.8l7.3 .5l11.8-.5l17.6 .1M520.8 860.2l-19.1-.8l-19.1 1.6l-16.1 3.7l-12.4 5.2l-4 2.4l-4.4 3.7l-2.8 3.6l-1.4 3.2l-.5 2.9l.5 5.5l1.5 5.3l1.8 3.9M454.2 680.5l17.5 4.9l7.9 6.1l4.5 1.9l7.3 .6l11.8-.5l17.6 .1M520.8 861.5l-17.6-.9l-17.6 1.3l-14.9 3.1l-13.1 5l-4.4 2.6l-4.2 3.4l-2.2 2.4l-2.1 3.7l-.7 3.6l.4 4.9l1.3 4.9l2.3 4.9M457.1 680.5l16.7 3.2l6.9 6.6l1.9 1.3l3 1l5.8 .4l13.2-.6l16.2 .2M520.8 862.7l-17.6-.9l-16.2 1.2l-15.2 3.2l-12.4 4.9l-4.7 2.9l-3.7 3.2l-2.2 2.8l-1.4 3.3l-.4 3.7l.7 4.8l1.6 4.9l1.9 3.7M461 680.5l13 1.2l4.2 2.7l4.9 5.9l2.5 1.1l5.8 .4l13.2-.4l16.2 .2M520.8 864.1l-16.2-1l-16.1 1.1l-15.6 3.2l-12 4.9l-6.6 4.9l-2.5 3.1l-1.4 3l-.4 3.7l.7 4.8l1.2 3.7l2.5 4.9M475.3 680.5l5.8 3.6l3.2 5l2.7 1.2l33.8 .3M520.8 865.5l-16.2-1l-16.1 1.1l-14 3l-11 4.6l-6.8 5.2l-1.9 2.5l-1.3 3.6l-.1 3.7l1 4.9l3.7 7.3M478.9 680.5l4.1 2.4l3.4 4.9l3.2 1.3l31.2 .5M520.8 867l-14.7-1.1l-14.7 .8l-13.2 2.5l-5.9 2l-5.8 2.7l-6.3 4.5l-1.9 2.5l-1.5 3.6l0 3.7l1 4.9l4 7.3M481.9 680.5l3.5 2.4l2.8 3.7l3.2 1.2l11.8 0l17.6 .8M520.8 868.5l-13.2-1.2l-14.7 .7l-14.7 3l-9.2 3.7l-3.7 2.5l-2.6 2.4l-1.7 2.5l-.8 2.4l0 3.7l.7 3.6l1.4 3.7l3.3 4.9M484.2 680.5l4.3 4.2l2.9 1.6l10.3 0l19.1 1.2M520.8 870.1l-13.2-1.3l-13.2 .6l-13.3 2.6l-9.6 4l-3.5 2.4l-2.4 2.5l-1.3 2.4l-.5 2.4l.3 3.7l1 3.7l1.9 3.6l2.9 3.7M485.8 680.5l4.2 3.6l2.9 1l8.8-.3l19.1 1.7M520.8 871.8l-13.2-1.4l-13.2 .6l-11.8 2.5l-8.6 3.7l-4.4 3.7l-1.5 2.4l-.6 2.4l.3 3.7l1.2 3.7l2.1 3.6l3.2 3.7M487.2 680.5l2.8 2.2l2.9 1l8.8-.5l11.8 1.8l7.3 .4M520.8 873.6l-11.7-1.6l-13.3 .5l-11 2.2l-8.2 3.7l-3 2.5l-1.7 2.4l-.6 2.4l.1 2.5l2.2 6.1l2.8 3.7l2.7 2.4M488.7 680.5l4.2 1.9l8.8-.7l11.8 2.1l7.3 .4M520.8 875.4l-11.7-1.8l-10.3 .2l-11.7 2.2l-7.9 3.6l-2.7 2.5l-1.3 2.4l.3 4.9l1.2 3.3l2 2.8l5.5 4.9M490.7 680.5l3.7 .6l4.3-.6M503.5 680.5l10 2l7.3 .4M519 900.4l1.8-.9M520.8 877.5l-10.3-2l-10.3 0l-10.2 1.8l-7.6 3.6l-2.9 3.6l-.2 2.5l.9 3.6l3.9 5.4l2.9 2.3l4 2.1M510.4 680.5l4.5 .8l5.9 .3M520.8 880l-4.4-1.6l-5.9-1l-7.3-.3l-5.9 .6l-5.9 1.4l-4 1.8l-2.9 2.4l-1 2.4l1.2 4.9l2.8 3.7l3.9 2.8l5.9 2.3l5.9 .9l7.3-.5l5.9-1.7l4.4-2.4M520.8 883.2l-2.9-1.9l-4.4-1.5l-5.9-.9l-5.9 .1l-5.9 .9l-4.4 1.7l-2.3 1.7l-1.3 2.4l.8 3.7l2.9 3.7l4.3 2.6l5.9 1.6l5.9 0l5.9-1.3l4.4-2.4l2.9-3.1M501.7 893.1l5.9 .2l4.4-1.5l1.8-1.2l1.9-2.4l.5-2.5l-.6-1.2l-3.6-2.1l-5.9-1l-5.9 .4l-4.3 1.5l-1.5 1.2l-.6 1.2l.5 2.5l3 3.2l4.1 1.7"/>
<g transform="translate(336.2 718.8) rotate(-3)"><rect x="-10.2" y="-6.2" width="20.4" height="12.4" fill="#ffcc00"/><text class="l" x="-8.3" y="4.4" font-size="11.5" textLength="16.6" lengthAdjust="spacingAndGlyphs" fill="#000">0.2</text></g>
<g transform="translate(434.6 713.6) rotate(0)"><rect x="-10.2" y="-6.2" width="20.4" height="12.4" fill="#ffcc00"/><text class="l" x="-8.3" y="4.4" font-size="11.5" textLength="16.6" lengthAdjust="spacingAndGlyphs" fill="#000">0.2</text></g>
<g transform="translate(420.0 696.4) rotate(8)"><rect x="-10.2" y="-6.2" width="20.4" height="12.4" fill="#66ff00"/><text class="l" x="-8.3" y="4.4" font-size="11.5" textLength="16.6" lengthAdjust="spacingAndGlyphs" fill="#000">0.4</text></g>
<g transform="translate(309.6 801.5) rotate(68)"><rect x="-10.2" y="-6.2" width="20.4" height="12.4" fill="#ffcc00"/><text class="l" x="-8.3" y="4.4" font-size="11.5" textLength="16.6" lengthAdjust="spacingAndGlyphs" fill="#000">0.2</text></g>
<g transform="translate(401.5 823.2) rotate(0)"><rect x="-10.2" y="-6.2" width="20.4" height="12.4" fill="#ffcc00"/><text class="l" x="-8.3" y="4.4" font-size="11.5" textLength="16.6" lengthAdjust="spacingAndGlyphs" fill="#000">0.2</text></g>
<g transform="translate(495.0 814.0) rotate(38)"><rect x="-10.2" y="-6.2" width="20.4" height="12.4" fill="#ffcc00"/><text class="l" x="-8.3" y="4.4" font-size="11.5" textLength="16.6" lengthAdjust="spacingAndGlyphs" fill="#000">0.2</text></g>
<g transform="translate(448.8 843.7) rotate(4)"><rect x="-10.2" y="-6.2" width="20.4" height="12.4" fill="#66ff00"/><text class="l" x="-8.3" y="4.4" font-size="11.5" textLength="16.6" lengthAdjust="spacingAndGlyphs" fill="#000">0.4</text></g>
<g transform="translate(489.2 854.1) rotate(0)"><rect x="-10.2" y="-6.2" width="20.4" height="12.4" fill="#00ff66"/><text class="l" x="-8.3" y="4.4" font-size="11.5" textLength="16.6" lengthAdjust="spacingAndGlyphs" fill="#000">0.6</text></g>
<g transform="translate(519.4 866.2) rotate(0)"><rect x="-10.2" y="-6.2" width="20.4" height="12.4" fill="#00ccff"/><text class="l" x="-8.3" y="4.4" font-size="11.5" textLength="16.6" lengthAdjust="spacingAndGlyphs" fill="#000">0.8</text></g>
</g>
<path d="M428.3 742.3L430.0 747.2L435.2 747.3L431.1 750.5L432.6 755.5L428.3 752.5L424.0 755.5L425.5 750.5L421.4 747.3L426.6 747.2Z" fill="#000"/>
<rect x="300.4" y="680.5" width="220.6" height="219.9" fill="none" stroke="#000" stroke-width="2.2"/>
<path d="M300.5 672.4V680.5M300.5 900.4V906.5M307.8 675.5V680.5M307.8 900.4V904M315.2 675.5V680.5M315.2 900.4V904M322.5 675.5V680.5M322.5 900.4V904M329.9 675.5V680.5M329.9 900.4V904M337.2 672.4V680.5M337.2 900.4V906.5M344.6 675.5V680.5M344.6 900.4V904M351.9 675.5V680.5M351.9 900.4V904M359.2 675.5V680.5M359.2 900.4V904M366.6 675.5V680.5M366.6 900.4V904M373.9 672.4V680.5M373.9 900.4V906.5M381.3 675.5V680.5M381.3 900.4V904M388.6 675.5V680.5M388.6 900.4V904M396.0 675.5V680.5M396.0 900.4V904M403.3 675.5V680.5M403.3 900.4V904M410.6 672.4V680.5M410.6 900.4V906.5M418.0 675.5V680.5M418.0 900.4V904M425.3 675.5V680.5M425.3 900.4V904M432.7 675.5V680.5M432.7 900.4V904M440.0 675.5V680.5M440.0 900.4V904M447.4 672.4V680.5M447.4 900.4V906.5M454.7 675.5V680.5M454.7 900.4V904M462.1 675.5V680.5M462.1 900.4V904M469.4 675.5V680.5M469.4 900.4V904M476.7 675.5V680.5M476.7 900.4V904M484.1 672.4V680.5M484.1 900.4V906.5M491.4 675.5V680.5M491.4 900.4V904M498.8 675.5V680.5M498.8 900.4V904M506.1 675.5V680.5M506.1 900.4V904M513.5 675.5V680.5M513.5 900.4V904M520.8 672.4V680.5M520.8 900.4V906.5M292.4 680.5H300.4M521 680.5H527.5M295.5 692.7H300.4M521 692.7H524.5M295.5 704.9H300.4M521 704.9H524.5M292.4 717.1H300.4M521 717.1H527.5M295.5 729.4H300.4M521 729.4H524.5M295.5 741.6H300.4M521 741.6H524.5M292.4 753.8H300.4M521 753.8H527.5M295.5 766.0H300.4M521 766.0H524.5M295.5 778.2H300.4M521 778.2H524.5M292.4 790.4H300.4M521 790.4H527.5M295.5 802.7H300.4M521 802.7H524.5M295.5 814.9H300.4M521 814.9H524.5M292.4 827.1H300.4M521 827.1H527.5M295.5 839.3H300.4M521 839.3H524.5M295.5 851.5H300.4M521 851.5H524.5M292.4 863.8H300.4M521 863.8H527.5M295.5 876.0H300.4M521 876.0H524.5M295.5 888.2H300.4M521 888.2H524.5M292.4 900.4H300.4M521 900.4H527.5" stroke="#000" stroke-width="1.2"/>
<text class="s" x="263.42" y="686.50" font-size="18" textLength="20.02" lengthAdjust="spacingAndGlyphs" fill="#000" >90</text>
<text class="s" x="263.42" y="723.15" font-size="18" textLength="20.02" lengthAdjust="spacingAndGlyphs" fill="#000" >60</text>
<text class="s" x="263.42" y="759.80" font-size="18" textLength="20.02" lengthAdjust="spacingAndGlyphs" fill="#000" >30</text>
<text class="s" x="273.32" y="796.45" font-size="18" textLength="10.01" lengthAdjust="spacingAndGlyphs" fill="#000" >0</text>
<text class="s" x="257.30" y="833.10" font-size="18" textLength="26.01" lengthAdjust="spacingAndGlyphs" fill="#000" >-30</text>
<text class="s" x="257.30" y="869.75" font-size="18" textLength="26.01" lengthAdjust="spacingAndGlyphs" fill="#000" >-60</text>
<text class="s" x="257.30" y="906.40" font-size="18" textLength="26.01" lengthAdjust="spacingAndGlyphs" fill="#000" >-90</text>
<text class="s" x="287.80" y="928.60" font-size="18" textLength="25.40" lengthAdjust="spacingAndGlyphs" fill="#000" >0.0</text>
<text class="s" x="324.52" y="928.60" font-size="18" textLength="25.40" lengthAdjust="spacingAndGlyphs" fill="#000" >0.5</text>
<text class="s" x="361.23" y="928.60" font-size="18" textLength="25.40" lengthAdjust="spacingAndGlyphs" fill="#000" >1.0</text>
<text class="s" x="397.95" y="928.60" font-size="18" textLength="25.40" lengthAdjust="spacingAndGlyphs" fill="#000" >1.5</text>
<text class="s" x="434.67" y="928.60" font-size="18" textLength="25.40" lengthAdjust="spacingAndGlyphs" fill="#000" >2.0</text>
<text class="s" x="471.38" y="928.60" font-size="18" textLength="25.40" lengthAdjust="spacingAndGlyphs" fill="#000" >2.5</text>
<text class="s" x="508.10" y="928.60" font-size="18" textLength="25.40" lengthAdjust="spacingAndGlyphs" fill="#000" >3.0</text>
<text class="b" x="352.20" y="955.30" font-size="16" textLength="116.51" lengthAdjust="spacingAndGlyphs" fill="#000" >Splitting time (s)</text>
<g transform="translate(246.3 0) rotate(-90)"><text class="b" x="-869.50" y="0.00" font-size="15" textLength="159.15" lengthAdjust="spacingAndGlyphs" fill="#000" >Fast direction (degree)</text></g>
<text class="s" x="209.10" y="979.00" font-size="18" textLength="402.40" lengthAdjust="spacingAndGlyphs" fill="#000" >Ror= 4.44; Rot= 4.07; Rct= 1.39; Rct/Rot= 0.34</text>
</svg>
</body></html>
